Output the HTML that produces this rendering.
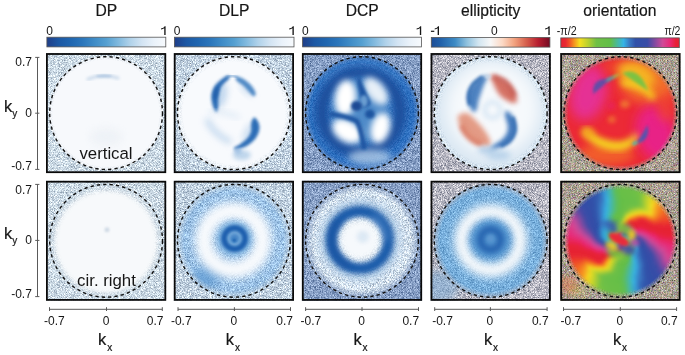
<!DOCTYPE html><html><head><meta charset="utf-8"><style>html,body{margin:0;padding:0;background:#fff;width:685px;height:355px;overflow:hidden}svg{display:block;will-change:transform}text{font-family:"Liberation Sans", sans-serif;fill:#161616}.w{stroke:#161616;stroke-width:0.2px}</style></head><body><svg width="685" height="355" viewBox="0 0 685 355"><defs><linearGradient id="gB" x1="0" x2="1" y1="0" y2="0"><stop offset="0" stop-color="#203e88"/><stop offset="0.1" stop-color="#1c58a4"/><stop offset="0.2" stop-color="#2066b0"/><stop offset="0.3" stop-color="#2b76bb"/><stop offset="0.4" stop-color="#3f8cc7"/><stop offset="0.5" stop-color="#55a0d1"/><stop offset="0.6" stop-color="#80b9de"/><stop offset="0.7" stop-color="#b0d2ea"/><stop offset="0.8" stop-color="#d3e4f3"/><stop offset="0.9" stop-color="#eaf2fa"/><stop offset="1" stop-color="#f7fafd"/></linearGradient><linearGradient id="gE" x1="0" x2="1" y1="0" y2="0"><stop offset="0" stop-color="#1d4d96"/><stop offset="0.08" stop-color="#2262aa"/><stop offset="0.2" stop-color="#3d8bc5"/><stop offset="0.3" stop-color="#8fc1de"/><stop offset="0.4" stop-color="#d3e6f1"/><stop offset="0.5" stop-color="#f7f7f7"/><stop offset="0.6" stop-color="#fcd9c5"/><stop offset="0.7" stop-color="#f2a27f"/><stop offset="0.8" stop-color="#d6604d"/><stop offset="0.9" stop-color="#b81f30"/><stop offset="1" stop-color="#730a22"/></linearGradient><linearGradient id="gO" x1="0" x2="1" y1="0" y2="0"><stop offset="0" stop-color="#e52033"/><stop offset="0.04" stop-color="#e82a30"/><stop offset="0.07" stop-color="#f04c28"/><stop offset="0.11" stop-color="#f59020"/><stop offset="0.16" stop-color="#f5e020"/><stop offset="0.23" stop-color="#b8d030"/><stop offset="0.3" stop-color="#70c045"/><stop offset="0.42" stop-color="#62be48"/><stop offset="0.48" stop-color="#48b8a0"/><stop offset="0.53" stop-color="#35b4e6"/><stop offset="0.58" stop-color="#3a78c2"/><stop offset="0.63" stop-color="#3050a8"/><stop offset="0.73" stop-color="#3a4ca6"/><stop offset="0.8" stop-color="#8a4aa0"/><stop offset="0.86" stop-color="#d04a98"/><stop offset="0.92" stop-color="#e82a78"/><stop offset="0.97" stop-color="#e82038"/><stop offset="1" stop-color="#e52033"/></linearGradient><clipPath id="circ"><circle cx="60.10" cy="60.00" r="57.00"/></clipPath><clipPath id="pan"><rect x="0" y="0" width="120.20" height="120.00"/></clipPath></defs><text transform="translate(106.30 15.5) scale(0.98 1.08)" font-size="16" text-anchor="middle" class="w">DP</text><text transform="translate(234.20 15.5) scale(0.98 1.08)" font-size="16" text-anchor="middle" class="w">DLP</text><text transform="translate(362.20 15.5) scale(0.98 1.08)" font-size="16" text-anchor="middle" class="w">DCP</text><text transform="translate(490.70 15.5) scale(0.98 1.08)" font-size="16" text-anchor="middle" class="w">ellipticity</text><text transform="translate(619.90 15.5) scale(0.98 1.08)" font-size="16" text-anchor="middle" class="w">orientation</text><rect x="46.90" y="37.20" width="118.90" height="9.7" fill="url(#gB)" stroke="#555" stroke-width="0.8"/><rect x="174.40" y="37.20" width="119.60" height="9.7" fill="url(#gB)" stroke="#555" stroke-width="0.8"/><rect x="302.60" y="37.20" width="118.80" height="9.7" fill="url(#gB)" stroke="#555" stroke-width="0.8"/><rect x="431.30" y="37.40" width="118.60" height="9.7" fill="url(#gE)" stroke="#555" stroke-width="0.8"/><rect x="560.80" y="37.90" width="118.50" height="9.7" fill="url(#gO)" stroke="#555" stroke-width="0.8"/><text x="46.30" y="34.9" font-size="12">0</text><path d="M164.25,34.90 L165.60,34.90 L165.60,26.30 L164.70,26.30 Q163.90,28.00 161.00,28.50 L161.00,29.50 Q163.00,29.40 164.25,28.30 Z" fill="#161616"/><text x="173.80" y="34.9" font-size="12">0</text><path d="M292.45,34.90 L293.80,34.90 L293.80,26.30 L292.90,26.30 Q292.10,28.00 289.20,28.50 L289.20,29.50 Q291.20,29.40 292.45,28.30 Z" fill="#161616"/><text x="302.00" y="34.9" font-size="12">0</text><path d="M419.85,34.90 L421.20,34.90 L421.20,26.30 L420.30,26.30 Q419.50,28.00 416.60,28.50 L416.60,29.50 Q418.60,29.40 419.85,28.30 Z" fill="#161616"/><rect x="430.9" y="30.7" width="3.4" height="1.2" fill="#161616"/><path d="M437.65,34.90 L439.00,34.90 L439.00,26.30 L438.10,26.30 Q437.30,28.00 434.70,28.50 L434.70,29.50 Q436.40,29.40 437.65,28.30 Z" fill="#161616"/><path d="M548.35,34.90 L549.70,34.90 L549.70,26.30 L548.80,26.30 Q548.00,28.00 545.10,28.50 L545.10,29.50 Q547.10,29.40 548.35,28.30 Z" fill="#161616"/><text x="556.8" y="34.9" font-size="12" textLength="19.8" lengthAdjust="spacingAndGlyphs">-π/2</text><text x="664.4" y="34.9" font-size="12" textLength="16" lengthAdjust="spacingAndGlyphs">π/2</text><text x="494.4" y="34.9" font-size="12" text-anchor="middle">0</text><g transform="translate(46.00 53.10)"><g clip-path="url(#pan)"><rect x="0" y="0" width="120.20" height="120.00" filter="url(#nz0)" opacity="1"/><g clip-path="url(#circ)"><circle cx="60.1" cy="60" r="57.4" fill="#f7f9fc" opacity="1"/><path d="M42,26 Q57,20 72,25" fill="none" stroke="#8aaed2" stroke-width="3" stroke-linecap="round" opacity="0.4" filter="url(#b1_5)"/><ellipse cx="58" cy="23" rx="8" ry="1.5" fill="#6f9ccc" opacity="0.35" filter="url(#b1)"/><ellipse cx="60" cy="84" rx="16" ry="9" fill="#dfe6ee" opacity="0.35" filter="url(#b4)"/><rect x="0" y="0" width="120.20" height="120.00" filter="url(#nz1)" mask="url(#mk0)" opacity="0.7"/></g></g><circle cx="60.10" cy="60.00" r="56.40" fill="none" stroke="#111" stroke-width="1.4" stroke-dasharray="3.3 3.1"/><rect x="0.9" y="0.9" width="118.40" height="118.20" fill="none" stroke="#0a0a0a" stroke-width="1.8"/></g><g transform="translate(46.00 180.80)"><g clip-path="url(#pan)"><rect x="0" y="0" width="120.20" height="120.00" filter="url(#nz0)" opacity="1"/><g clip-path="url(#circ)"><circle cx="60.1" cy="61" r="52" fill="#f7f9fb" filter="url(#b2_5)"/><rect x="0" y="0" width="120.20" height="120.00" filter="url(#nz2)" mask="url(#mk1)" opacity="0.6"/><ellipse cx="61" cy="49" rx="2.5" ry="2.5" fill="#b8c8d8" opacity="0.6" filter="url(#b1)"/></g></g><circle cx="60.10" cy="60.00" r="56.40" fill="none" stroke="#111" stroke-width="1.4" stroke-dasharray="3.3 3.1"/><rect x="0.9" y="0.9" width="118.40" height="118.20" fill="none" stroke="#0a0a0a" stroke-width="1.8"/></g><g transform="translate(173.80 53.10)"><g clip-path="url(#pan)"><rect x="0" y="0" width="120.20" height="120.00" filter="url(#nz3)" opacity="1"/><g clip-path="url(#circ)"><circle cx="60.1" cy="60" r="57.4" fill="#f8fafd" opacity="1"/><ellipse cx="47" cy="42" rx="6" ry="13" fill="#9cc0e4" opacity="0.6" transform="rotate(12 47 42)" filter="url(#b3)"/><ellipse cx="73" cy="36" rx="4" ry="9" fill="#a8c8e8" opacity="0.5" transform="rotate(-45 73 36)" filter="url(#b3)"/><ellipse cx="75" cy="80" rx="5" ry="11" fill="#a8c8e8" opacity="0.5" transform="rotate(25 75 80)" filter="url(#b3)"/><path d="M54.4,22.5 C55.7,22.4 56.4,23.9 55.5,25.4 C54.6,26.9 50.7,29.5 49.0,31.6 C47.3,33.7 46.2,35.6 45.5,37.9 C44.8,40.2 44.7,43.0 44.5,45.5 C44.3,48.0 44.8,50.9 44.5,53.1 C44.2,55.4 43.8,58.6 43.0,59.0 C42.2,59.4 40.8,57.2 40.0,55.4 C39.2,53.6 38.3,50.5 38.0,48.0 C37.7,45.5 37.5,43.0 38.0,40.5 C38.5,38.0 39.4,35.3 41.0,32.9 C42.6,30.5 45.3,28.0 47.5,26.3 C49.7,24.6 53.1,22.6 54.4,22.5 Z" fill="#2266b2" opacity="0.95" filter="url(#b1_5)"/><ellipse cx="42.5" cy="40" rx="2.5" ry="7" fill="#1a58a5" opacity="0.6" transform="rotate(15 42.5 40)" filter="url(#b1_5)"/><path d="M53,24 Q58,21.5 63,24" fill="none" stroke="#5a90c8" stroke-width="2" stroke-linecap="round" opacity="0.7" filter="url(#b1)"/><path d="M62.8,23.3 C64.0,23.1 67.4,24.5 69.6,25.8 C71.8,27.1 74.2,29.2 76.0,31.0 C77.8,32.8 79.3,35.0 80.3,36.7 C81.3,38.5 81.9,40.5 81.8,41.5 C81.7,42.5 80.6,43.5 79.5,43.0 C78.4,42.5 76.9,40.4 75.2,38.6 C73.5,36.9 71.4,34.4 69.3,32.5 C67.2,30.6 63.7,28.8 62.6,27.3 C61.5,25.8 61.6,23.6 62.8,23.3 Z" fill="#3f7fc0" opacity="0.9" filter="url(#b1_4)"/><path d="M80.5,64.5 C81.8,64.5 84.2,68.0 85.0,70.3 C85.8,72.5 85.8,75.4 85.2,78.0 C84.6,80.6 83.2,83.6 81.2,86.0 C79.2,88.4 76.3,90.8 73.2,92.6 C70.1,94.3 64.6,96.2 62.5,96.5 C60.4,96.8 59.9,95.4 60.5,94.5 C61.1,93.6 64.1,92.8 66.3,91.2 C68.5,89.6 71.8,87.2 73.6,85.0 C75.4,82.8 76.7,80.4 77.3,77.9 C77.9,75.5 76.9,72.5 77.4,70.3 C77.9,68.1 79.2,64.5 80.5,64.5 Z" fill="#2266b2" opacity="0.95" filter="url(#b1_4)"/><path d="M34,68 Q40,81 55,88" fill="none" stroke="#a9c8e7" stroke-width="6" stroke-linecap="round" opacity="0.6" filter="url(#b3)"/><path d="M37,58 Q52,59 64,64" fill="none" stroke="#c0d7ed" stroke-width="4" stroke-linecap="round" opacity="0.45" filter="url(#b3)"/><ellipse cx="68" cy="102" rx="9" ry="5" fill="#a6c6e4" opacity="0.7" filter="url(#b2)"/><ellipse cx="64" cy="98" rx="4" ry="3" fill="#8fb6df" opacity="0.6" filter="url(#b1_5)"/><rect x="0" y="0" width="120.20" height="120.00" filter="url(#nz4)" mask="url(#mk2)" opacity="0.7"/></g></g><circle cx="60.10" cy="60.00" r="56.40" fill="none" stroke="#111" stroke-width="1.4" stroke-dasharray="3.3 3.1"/><rect x="0.9" y="0.9" width="118.40" height="118.20" fill="none" stroke="#0a0a0a" stroke-width="1.8"/></g><g transform="translate(173.80 180.80)"><g clip-path="url(#pan)"><rect x="0" y="0" width="120.20" height="120.00" filter="url(#nz3)" opacity="1"/><g clip-path="url(#circ)"><circle cx="60.1" cy="60" r="57.4" fill="#9cc2e6" opacity="1"/><rect x="0" y="0" width="120.20" height="120.00" filter="url(#nz5)" mask="url(#mk3)" opacity="0.9"/><ellipse cx="33" cy="96" rx="24" ry="11" fill="#5e9ad2" opacity="0.75" transform="rotate(-30 33 96)" filter="url(#b5)"/><circle cx="59.5" cy="59.5" r="29.5" fill="none" stroke="#f8fafd" stroke-width="18" opacity="1" filter="url(#b4)"/><ellipse cx="60.8" cy="57.7" rx="17.5" ry="17" fill="#80b2df" opacity="1" filter="url(#b2_5)"/><circle cx="60.8" cy="57.7" r="10.5" fill="none" stroke="#1b5eae" stroke-width="6" opacity="1" filter="url(#b1_6)"/><ellipse cx="60.8" cy="57.7" rx="5" ry="5" fill="#4a88c8" opacity="1" filter="url(#b1_5)"/><ellipse cx="60.5" cy="59.5" rx="1.8" ry="1.8" fill="#1b5eae" opacity="1" filter="url(#b0_8)"/><rect x="0" y="0" width="120.20" height="120.00" filter="url(#nz6)" mask="url(#mk1)" opacity="1"/></g></g><circle cx="60.10" cy="60.00" r="56.40" fill="none" stroke="#111" stroke-width="1.4" stroke-dasharray="3.3 3.1"/><rect x="0.9" y="0.9" width="118.40" height="118.20" fill="none" stroke="#0a0a0a" stroke-width="1.8"/></g><g transform="translate(301.90 53.10)"><g clip-path="url(#pan)"><rect x="0" y="0" width="120.20" height="120.00" filter="url(#nz7)" opacity="1"/><g clip-path="url(#circ)"><circle cx="60.1" cy="60" r="57.4" fill="#2d6fc0" opacity="1"/><rect x="0" y="0" width="120.20" height="120.00" filter="url(#nz8)" mask="url(#mk3)" opacity="0.6"/><path d="M22,30 A48,48 0 0 1 98,30" fill="none" stroke="#5a92d0" stroke-width="6" opacity="0.45" filter="url(#b3)"/><circle cx="59" cy="59" r="39" fill="none" stroke="#1a4f9d" stroke-width="13" opacity="1" filter="url(#b3_5)"/><ellipse cx="68" cy="104" rx="22" ry="8" fill="#b3cde8" opacity="0.8" filter="url(#b3_5)"/><ellipse cx="59" cy="58" rx="28" ry="32" fill="#4f8bc9" opacity="1" filter="url(#b4)"/><ellipse cx="43.5" cy="45" rx="10.5" ry="18" fill="#ffffff" opacity="1" transform="rotate(6 43.5 45)" filter="url(#b3_2)"/><ellipse cx="74" cy="38" rx="9" ry="16" fill="#e8f0f8" opacity="1" transform="rotate(-38 74 38)" filter="url(#b3_2)"/><ellipse cx="45" cy="78" rx="16" ry="10.5" fill="#ffffff" opacity="1" transform="rotate(32 45 78)" filter="url(#b3_2)"/><ellipse cx="78.5" cy="75" rx="9.5" ry="15.5" fill="#ffffff" opacity="1" transform="rotate(15 78.5 75)" filter="url(#b3_2)"/><path d="M57.0,23.0 C57.8,23.0 58.8,27.2 60.0,30.0 C61.2,32.8 63.1,36.5 64.5,40.0 C65.9,43.5 69.2,48.7 68.5,51.0 C67.8,53.3 62.3,55.8 60.5,54.0 C58.7,52.2 58.3,44.0 57.5,40.0 C56.7,36.0 55.6,32.8 55.5,30.0 C55.4,27.2 56.2,23.0 57.0,23.0 Z" fill="#1c55a2" opacity="1" filter="url(#b1_6)"/><path d="M30,61 C40,63 48,64 55,68 C59,74 60,82 62,94" fill="none" stroke="#1c55a2" stroke-width="5" stroke-linecap="round" opacity="1" filter="url(#b1_8)"/><ellipse cx="62" cy="48" rx="4" ry="6" fill="#7fb0dd" opacity="0.8" filter="url(#b1_8)"/><ellipse cx="54.5" cy="53" rx="5.5" ry="5" fill="#1a4a94" opacity="1" filter="url(#b1_6)"/><ellipse cx="68" cy="61" rx="5" ry="4.5" fill="#1e55a0" opacity="1" filter="url(#b1_6)"/><rect x="0" y="0" width="120.20" height="120.00" filter="url(#nz9)" mask="url(#mk4)" opacity="0.7"/></g></g><circle cx="60.10" cy="60.00" r="56.40" fill="none" stroke="#111" stroke-width="1.4" stroke-dasharray="3.3 3.1"/><rect x="0.9" y="0.9" width="118.40" height="118.20" fill="none" stroke="#0a0a0a" stroke-width="1.8"/></g><g transform="translate(301.90 180.80)"><g clip-path="url(#pan)"><rect x="0" y="0" width="120.20" height="120.00" filter="url(#nz7)" opacity="1"/><g clip-path="url(#circ)"><circle cx="60.1" cy="60" r="57.4" fill="#d3e1ee" opacity="1"/><rect x="0" y="0" width="120.20" height="120.00" filter="url(#nz10)" mask="url(#mk3)" opacity="1"/><circle cx="58" cy="59" r="38" fill="none" stroke="#b0cce8" stroke-width="8" opacity="0.7" filter="url(#b3)"/><circle cx="58" cy="59" r="28.5" fill="none" stroke="#1f5dab" stroke-width="12" opacity="1" filter="url(#b2_5)"/><path d="M38,40 A28,28 0 0 0 48,85" fill="none" stroke="#1a52a0" stroke-width="8" opacity="0.7" filter="url(#b3)"/><path d="M70,36 A28,28 0 0 1 84,60" fill="none" stroke="#5a90cc" stroke-width="8" opacity="0.5" filter="url(#b3)"/><ellipse cx="58" cy="59" rx="20" ry="20" fill="#f6f9fc" opacity="1" filter="url(#b3)"/><ellipse cx="61" cy="56" rx="6" ry="6" fill="#d5e4f2" opacity="0.8" filter="url(#b2)"/><rect x="0" y="0" width="120.20" height="120.00" filter="url(#nz9)" mask="url(#mk5)" opacity="1"/></g></g><circle cx="60.10" cy="60.00" r="56.40" fill="none" stroke="#111" stroke-width="1.4" stroke-dasharray="3.3 3.1"/><rect x="0.9" y="0.9" width="118.40" height="118.20" fill="none" stroke="#0a0a0a" stroke-width="1.8"/></g><g transform="translate(430.60 53.10)"><g clip-path="url(#pan)"><rect x="0" y="0" width="120.20" height="120.00" filter="url(#nz11)" opacity="1"/><g clip-path="url(#circ)"><circle cx="60.1" cy="60" r="57.4" fill="#dbe8f3" opacity="1"/><ellipse cx="62" cy="56" rx="46" ry="46" fill="#f6f9fc" opacity="1" filter="url(#b7)"/><path d="M55.5,22.5 C56.6,22.5 57.0,23.2 56.5,25.0 C56.0,26.8 53.8,30.4 52.8,33.0 C51.8,35.6 51.0,38.0 50.2,40.5 C49.4,43.0 48.4,45.4 47.8,48.0 C47.1,50.6 47.1,54.2 46.3,56.0 C45.5,57.8 44.3,59.7 43.0,59.0 C41.7,58.3 39.3,54.5 38.3,52.0 C37.3,49.5 36.9,46.8 37.0,44.3 C37.1,41.8 37.9,39.0 39.0,36.7 C40.1,34.4 41.6,32.2 43.4,30.3 C45.2,28.4 47.8,26.5 49.8,25.2 C51.8,23.9 54.4,22.5 55.5,22.5 Z" fill="#3a74ba" opacity="0.9" filter="url(#b2_2)"/><path d="M59.5,22.5 C60.3,22.1 63.6,22.9 66.2,24.0 C68.8,25.1 72.5,27.1 75.1,29.0 C77.6,30.9 79.8,33.1 81.5,35.4 C83.2,37.7 84.5,40.9 85.3,43.0 C86.1,45.1 86.7,46.8 86.5,48.0 C86.3,49.2 85.5,50.0 84.0,50.0 C82.5,50.0 80.0,49.3 77.7,48.1 C75.4,46.9 72.1,45.1 70.0,43.0 C67.9,40.9 66.5,38.1 65.0,35.4 C63.5,32.6 62.1,28.6 61.2,26.5 C60.3,24.4 58.7,22.9 59.5,22.5 Z" fill="#cf5a48" opacity="0.85" filter="url(#b2_4)"/><path d="M27.7,62.7 C29.0,60.8 33.4,59.2 36.6,60.2 C39.8,61.2 43.8,66.0 46.8,69.0 C49.8,72.0 52.3,74.9 54.4,77.9 C56.5,80.9 58.6,84.5 59.4,86.8 C60.2,89.1 59.6,91.0 59.4,92.0 C59.2,93.0 59.7,93.0 58.2,93.1 C56.7,93.2 53.4,93.3 50.6,92.5 C47.9,91.7 44.5,90.0 41.7,88.0 C38.9,86.0 36.1,83.2 34.0,80.5 C31.9,77.8 30.1,74.6 29.0,71.6 C27.9,68.6 26.4,64.6 27.7,62.7 Z" fill="#e08a70" opacity="0.85" filter="url(#b2_6)"/><path d="M75.0,58.0 C76.0,57.6 79.4,59.4 81.0,61.4 C82.6,63.4 84.2,67.3 84.8,70.3 C85.4,73.3 85.6,76.2 84.8,79.2 C84.0,82.2 82.2,85.6 79.7,88.1 C77.2,90.6 73.0,92.9 69.6,94.4 C66.2,95.9 60.5,97.4 59.4,97.0 C58.3,96.6 61.3,93.6 63.2,91.9 C65.1,90.2 68.8,88.7 70.9,86.8 C73.0,84.9 74.9,82.8 75.9,80.5 C77.0,78.2 77.4,75.7 77.2,72.9 C77.0,70.2 75.1,66.5 74.7,64.0 C74.3,61.5 74.0,58.4 75.0,58.0 Z" fill="#3570b8" opacity="0.9" filter="url(#b2_2)"/><path d="M52.0,23.5 C50.6,24.6 45.5,28.1 43.4,30.3 C41.3,32.5 40.4,34.4 39.5,36.7 C38.6,39.0 38.0,41.8 38.0,44.3 C38.0,46.8 39.1,50.7 39.3,52.0" fill="none" stroke="#2360aa" stroke-width="4" opacity="0.75" filter="url(#b1_8)"/><path d="M62.0,23.0 C64.0,23.8 70.9,25.9 74.0,28.0 C77.1,30.1 78.8,32.9 80.5,35.4 C82.2,37.9 83.7,41.7 84.3,43.0" fill="none" stroke="#b93a33" stroke-width="4.5" opacity="0.7" filter="url(#b2)"/><path d="M30.5,72.0 C31.2,73.4 33.0,78.0 35.0,80.5 C37.0,83.0 39.5,85.5 42.2,87.3 C44.9,89.1 49.5,90.8 51.0,91.5" fill="none" stroke="#d05a40" stroke-width="4.5" opacity="0.65" filter="url(#b2)"/><path d="M82.0,64.0 C82.3,65.2 83.5,68.5 83.8,71.0 C84.1,73.5 84.6,76.5 83.8,79.2 C83.0,82.0 81.3,85.1 79.0,87.5 C76.7,89.9 71.5,92.4 70.0,93.4" fill="none" stroke="#2360aa" stroke-width="4" opacity="0.75" filter="url(#b1_8)"/><ellipse cx="57.5" cy="23.5" rx="3" ry="2" fill="#c8d8ea" opacity="0.8" filter="url(#b1)"/><ellipse cx="56" cy="97" rx="9" ry="4" fill="#a6c6e4" opacity="0.7" filter="url(#b2_5)"/><ellipse cx="68" cy="102" rx="12" ry="5" fill="#a9c9e6" opacity="0.75" filter="url(#b3)"/><circle cx="62" cy="57" r="8" fill="none" stroke="#c4dbef" stroke-width="4" opacity="0.6" filter="url(#b2_5)"/><rect x="0" y="0" width="120.20" height="120.00" filter="url(#nz12)" mask="url(#mk1)" opacity="0.8"/></g></g><circle cx="60.10" cy="60.00" r="56.40" fill="none" stroke="#111" stroke-width="1.4" stroke-dasharray="3.3 3.1"/><rect x="0.9" y="0.9" width="118.40" height="118.20" fill="none" stroke="#0a0a0a" stroke-width="1.8"/></g><g transform="translate(430.60 180.80)"><g clip-path="url(#pan)"><rect x="0" y="0" width="120.20" height="120.00" filter="url(#nz11)" opacity="1"/><ellipse cx="8" cy="106" rx="20" ry="16" fill="#7fb0dc" opacity="0.55" filter="url(#b4)"/><g clip-path="url(#circ)"><circle cx="60.1" cy="60" r="57.4" fill="#78afdc" opacity="1"/><rect x="0" y="0" width="120.20" height="120.00" filter="url(#nz13)" mask="url(#mk3)" opacity="0.8"/><circle cx="60.1" cy="60" r="29.5" fill="none" stroke="#f8fafc" stroke-width="14" opacity="1" filter="url(#b4)"/><ellipse cx="60" cy="58.8" rx="20" ry="19" fill="#4e8fcc" opacity="1" filter="url(#b3)"/><circle cx="60" cy="58.8" r="10" fill="none" stroke="#2a68b2" stroke-width="7" opacity="1" filter="url(#b2)"/><ellipse cx="60" cy="58" rx="3.5" ry="3.5" fill="#5a95d0" opacity="1" filter="url(#b1_5)"/><rect x="0" y="0" width="120.20" height="120.00" filter="url(#nz14)" mask="url(#mk2)" opacity="0.8"/></g></g><circle cx="60.10" cy="60.00" r="56.40" fill="none" stroke="#111" stroke-width="1.4" stroke-dasharray="3.3 3.1"/><rect x="0.9" y="0.9" width="118.40" height="118.20" fill="none" stroke="#0a0a0a" stroke-width="1.8"/></g><g transform="translate(560.30 53.10)"><g clip-path="url(#pan)"><rect x="0" y="0" width="120.20" height="120.00" filter="url(#nz15)" opacity="1"/><g clip-path="url(#circ)"><circle cx="60.1" cy="60" r="57.4" fill="#ec2a36" opacity="1"/><ellipse cx="28" cy="40" rx="18" ry="28" fill="#e5309a" opacity="0.95" transform="rotate(15 28 40)" filter="url(#b6)"/><ellipse cx="54" cy="14" rx="10" ry="7" fill="#ef4a2e" opacity="0.8" filter="url(#b4)"/><ellipse cx="88" cy="28" rx="28" ry="22" fill="#f3722c" opacity="0.95" filter="url(#b6)"/><ellipse cx="76" cy="22" rx="20" ry="12" fill="#f5b822" opacity="0.95" transform="rotate(25 76 22)" filter="url(#b4)"/><path d="M64,30 Q82,30 92,44" fill="none" stroke="#f5d020" stroke-width="7" stroke-linecap="round" opacity="0.9" filter="url(#b3)"/><path d="M62,20 Q79,13 88,38 Q73,28 62,20 Z" fill="#7cc242" opacity="1" filter="url(#b1_8)"/><path d="M33,41 Q31,24 50,26 Q42,34 33,41 Z" fill="#5a50a8" opacity="0.95" filter="url(#b1_6)"/><path d="M45,29 Q47,22 56,23 Q52,28 45,29 Z" fill="#40b4b8" opacity="0.85" filter="url(#b1_6)"/><path d="M52,25 Q54,20 60,21 Q58,24 52,25 Z" fill="#a8d040" opacity="0.8" filter="url(#b1_5)"/><ellipse cx="46" cy="101" rx="28" ry="11" fill="#f2642c" opacity="0.9" filter="url(#b5)"/><path d="M26,79 Q40,94 60,93 Q70,91 77,84" fill="none" stroke="#f5dc20" stroke-width="9" stroke-linecap="round" opacity="0.95" filter="url(#b3)"/><ellipse cx="28" cy="80" rx="6" ry="5" fill="#f39a24" opacity="0.7" filter="url(#b3)"/><ellipse cx="95" cy="80" rx="19" ry="28" fill="#e8248c" opacity="0.95" transform="rotate(-15 95 80)" filter="url(#b6)"/><path d="M75,91 Q91,88 87,72 Q81,84 75,91 Z" fill="#4a58b0" opacity="0.95" filter="url(#b1_6)"/><ellipse cx="74.5" cy="90" rx="3" ry="2" fill="#5ab8a0" opacity="0.8" transform="rotate(-30 74.5 90)" filter="url(#b1_2)"/><ellipse cx="64.5" cy="51" rx="5" ry="4" fill="#f07a30" opacity="0.85" filter="url(#b2)"/><ellipse cx="51.5" cy="66.5" rx="4" ry="3.5" fill="#f07a30" opacity="0.75" filter="url(#b2)"/><ellipse cx="51" cy="53" rx="4" ry="4" fill="#e82068" opacity="0.6" filter="url(#b2)"/><ellipse cx="105" cy="55" rx="8" ry="14" fill="#f04a30" opacity="0.6" filter="url(#b4)"/><rect x="0" y="0" width="120.20" height="120.00" filter="url(#nz15)" mask="url(#mk4)" opacity="0.8"/></g></g><circle cx="60.10" cy="60.00" r="56.40" fill="none" stroke="#111" stroke-width="1.4" stroke-dasharray="3.3 3.1"/><rect x="0.9" y="0.9" width="118.40" height="118.20" fill="none" stroke="#0a0a0a" stroke-width="1.8"/></g><g transform="translate(560.30 180.80)"><g clip-path="url(#pan)"><rect x="0" y="0" width="120.20" height="120.00" filter="url(#nz15)" opacity="1"/><ellipse cx="8" cy="104" rx="10" ry="9" fill="#e8703c" opacity="0.45" filter="url(#b3)"/><ellipse cx="18" cy="110" rx="8" ry="6" fill="#d0c040" opacity="0.3" filter="url(#b3)"/><g clip-path="url(#circ)"><foreignObject x="0" y="0" width="120.2" height="120" filter="url(#b1_5)"><div style="position:relative;width:120.2px;height:120px"><div style="position:absolute;left:2.70px;top:2.60px;width:114.80px;height:114.80px;border-radius:50%;background:conic-gradient(#68bf47 0deg,#6abf46 6deg,#6cbf46 12deg,#6ec045 18deg,#7cc341 24deg,#aece33 30deg,#d9d927 36deg,#f5c620 42deg,#f59320 48deg,#f37823 54deg,#f15d26 60deg,#ee452a 66deg,#e82930 72deg,#e52233 78deg,#e72037 84deg,#e82558 90deg,#e82a75 96deg,#e03583 102deg,#d7418f 108deg,#c24a9a 114deg,#8a4aa0 120deg,#534ba4 126deg,#374da7 132deg,#344ea7 138deg,#324fa8 144deg,#3153aa 150deg,#3564b5 156deg,#3797d5 162deg,#43b7b2 168deg,#5dbd59 174deg,#68bf47 180deg,#6abf46 186deg,#6cbf46 192deg,#6ec045 198deg,#7cc341 204deg,#aece33 210deg,#d9d927 216deg,#f5c620 222deg,#f59320 228deg,#f37823 234deg,#f15d26 240deg,#ee452a 246deg,#e82930 252deg,#e52233 258deg,#e72037 264deg,#e82558 270deg,#e82a75 276deg,#e03583 282deg,#d7418f 288deg,#c24a9a 294deg,#8a4aa0 300deg,#534ba4 306deg,#374da7 312deg,#344ea7 318deg,#324fa8 324deg,#3153aa 330deg,#3564b5 336deg,#3797d5 342deg,#43b7b2 348deg,#5dbd59 354deg,#68bf47 360deg)"></div><div style="position:absolute;left:4.14px;top:4.04px;width:111.93px;height:111.93px;border-radius:50%;background:conic-gradient(#68bf47 0deg,#6abf46 6deg,#6cbf46 12deg,#6ec045 18deg,#7cc341 24deg,#aece33 30deg,#d9d927 36deg,#f5c620 42deg,#f59320 48deg,#f37823 54deg,#f15d26 60deg,#ee452a 66deg,#e82930 72deg,#e52233 78deg,#e72037 84deg,#e82558 90deg,#e82a75 96deg,#e03583 102deg,#d7418f 108deg,#c24a9a 114deg,#8a4aa0 120deg,#534ba4 126deg,#374da7 132deg,#344ea7 138deg,#324fa8 144deg,#3153aa 150deg,#3564b5 156deg,#3797d5 162deg,#43b7b2 168deg,#5dbd59 174deg,#68bf47 180deg,#6abf46 186deg,#6cbf46 192deg,#6ec045 198deg,#7cc341 204deg,#aece33 210deg,#d9d927 216deg,#f5c620 222deg,#f59320 228deg,#f37823 234deg,#f15d26 240deg,#ee452a 246deg,#e82930 252deg,#e52233 258deg,#e72037 264deg,#e82558 270deg,#e82a75 276deg,#e03583 282deg,#d7418f 288deg,#c24a9a 294deg,#8a4aa0 300deg,#534ba4 306deg,#374da7 312deg,#344ea7 318deg,#324fa8 324deg,#3153aa 330deg,#3564b5 336deg,#3797d5 342deg,#43b7b2 348deg,#5dbd59 354deg,#68bf47 360deg)"></div><div style="position:absolute;left:5.57px;top:5.47px;width:109.06px;height:109.06px;border-radius:50%;background:conic-gradient(#68bf47 0deg,#6abf46 6deg,#6cbf46 12deg,#6ec045 18deg,#7cc341 24deg,#aece33 30deg,#d9d927 36deg,#f5c620 42deg,#f59320 48deg,#f37823 54deg,#f15d26 60deg,#ee452a 66deg,#e82930 72deg,#e52233 78deg,#e72037 84deg,#e82558 90deg,#e82a75 96deg,#e03583 102deg,#d7418f 108deg,#c24a9a 114deg,#8a4aa0 120deg,#534ba4 126deg,#374da7 132deg,#344ea7 138deg,#324fa8 144deg,#3153aa 150deg,#3564b5 156deg,#3797d5 162deg,#43b7b2 168deg,#5dbd59 174deg,#68bf47 180deg,#6abf46 186deg,#6cbf46 192deg,#6ec045 198deg,#7cc341 204deg,#aece33 210deg,#d9d927 216deg,#f5c620 222deg,#f59320 228deg,#f37823 234deg,#f15d26 240deg,#ee452a 246deg,#e82930 252deg,#e52233 258deg,#e72037 264deg,#e82558 270deg,#e82a75 276deg,#e03583 282deg,#d7418f 288deg,#c24a9a 294deg,#8a4aa0 300deg,#534ba4 306deg,#374da7 312deg,#344ea7 318deg,#324fa8 324deg,#3153aa 330deg,#3564b5 336deg,#3797d5 342deg,#43b7b2 348deg,#5dbd59 354deg,#68bf47 360deg)"></div><div style="position:absolute;left:7.01px;top:6.91px;width:106.19px;height:106.19px;border-radius:50%;background:conic-gradient(#68bf47 0deg,#6abf46 6deg,#6cbf46 12deg,#6ec045 18deg,#7cc341 24deg,#aece33 30deg,#d9d927 36deg,#f5c620 42deg,#f59320 48deg,#f37823 54deg,#f15d26 60deg,#ee452a 66deg,#e82930 72deg,#e52233 78deg,#e72037 84deg,#e82558 90deg,#e82a75 96deg,#e03583 102deg,#d7418f 108deg,#c24a9a 114deg,#8a4aa0 120deg,#534ba4 126deg,#374da7 132deg,#344ea7 138deg,#324fa8 144deg,#3153aa 150deg,#3564b5 156deg,#3797d5 162deg,#43b7b2 168deg,#5dbd59 174deg,#68bf47 180deg,#6abf46 186deg,#6cbf46 192deg,#6ec045 198deg,#7cc341 204deg,#aece33 210deg,#d9d927 216deg,#f5c620 222deg,#f59320 228deg,#f37823 234deg,#f15d26 240deg,#ee452a 246deg,#e82930 252deg,#e52233 258deg,#e72037 264deg,#e82558 270deg,#e82a75 276deg,#e03583 282deg,#d7418f 288deg,#c24a9a 294deg,#8a4aa0 300deg,#534ba4 306deg,#374da7 312deg,#344ea7 318deg,#324fa8 324deg,#3153aa 330deg,#3564b5 336deg,#3797d5 342deg,#43b7b2 348deg,#5dbd59 354deg,#68bf47 360deg)"></div><div style="position:absolute;left:8.44px;top:8.34px;width:103.32px;height:103.32px;border-radius:50%;background:conic-gradient(#68bf47 0deg,#6abf46 6deg,#6cbf46 12deg,#6ec045 18deg,#7cc341 24deg,#aece33 30deg,#d9d927 36deg,#f5c620 42deg,#f59320 48deg,#f37823 54deg,#f15d26 60deg,#ee452a 66deg,#e82930 72deg,#e52233 78deg,#e72037 84deg,#e82558 90deg,#e82a75 96deg,#e03583 102deg,#d7418f 108deg,#c24a9a 114deg,#8a4aa0 120deg,#534ba4 126deg,#374da7 132deg,#344ea7 138deg,#324fa8 144deg,#3153aa 150deg,#3564b5 156deg,#3797d5 162deg,#43b7b2 168deg,#5dbd59 174deg,#68bf47 180deg,#6abf46 186deg,#6cbf46 192deg,#6ec045 198deg,#7cc341 204deg,#aece33 210deg,#d9d927 216deg,#f5c620 222deg,#f59320 228deg,#f37823 234deg,#f15d26 240deg,#ee452a 246deg,#e82930 252deg,#e52233 258deg,#e72037 264deg,#e82558 270deg,#e82a75 276deg,#e03583 282deg,#d7418f 288deg,#c24a9a 294deg,#8a4aa0 300deg,#534ba4 306deg,#374da7 312deg,#344ea7 318deg,#324fa8 324deg,#3153aa 330deg,#3564b5 336deg,#3797d5 342deg,#43b7b2 348deg,#5dbd59 354deg,#68bf47 360deg)"></div><div style="position:absolute;left:9.88px;top:9.77px;width:100.45px;height:100.45px;border-radius:50%;background:conic-gradient(#68bf47 0deg,#6abf46 6deg,#6cbf46 12deg,#6ec045 18deg,#7ac242 24deg,#abcd34 30deg,#d7d828 36deg,#f5cb20 42deg,#f59720 48deg,#f37a23 54deg,#f15d26 60deg,#ee442a 66deg,#e82930 72deg,#e52133 78deg,#e82037 84deg,#e82559 90deg,#e82a77 96deg,#df3684 102deg,#d54391 108deg,#be4a9a 114deg,#874aa0 120deg,#514ba4 126deg,#374da7 132deg,#344ea7 138deg,#324fa8 144deg,#3154ab 150deg,#3566b6 156deg,#3799d6 162deg,#43b7b1 168deg,#5dbd59 174deg,#68bf47 180deg,#6abf46 186deg,#6cbf46 192deg,#6ec045 198deg,#7ac242 204deg,#abcd34 210deg,#d7d828 216deg,#f5cb20 222deg,#f59720 228deg,#f37a23 234deg,#f15d26 240deg,#ee442a 246deg,#e82930 252deg,#e52133 258deg,#e82037 264deg,#e82559 270deg,#e82a77 276deg,#df3684 282deg,#d54391 288deg,#be4a9a 294deg,#874aa0 300deg,#514ba4 306deg,#374da7 312deg,#344ea7 318deg,#324fa8 324deg,#3154ab 330deg,#3566b6 336deg,#3799d6 342deg,#43b7b1 348deg,#5dbd59 354deg,#68bf47 360deg)"></div><div style="position:absolute;left:11.31px;top:11.21px;width:97.58px;height:97.58px;border-radius:50%;background:conic-gradient(#67bf47 0deg,#69bf46 6deg,#6bbf46 12deg,#6dc046 18deg,#72c144 24deg,#a3cb36 30deg,#d0d62a 36deg,#f5d820 42deg,#f5a220 48deg,#f48022 54deg,#f15d26 60deg,#ed402b 66deg,#e72831 72deg,#e52033 78deg,#e82038 84deg,#e8265c 90deg,#e62c7a 96deg,#dc3a88 102deg,#d24896 108deg,#b14a9c 114deg,#7d4aa1 120deg,#494ca5 126deg,#374da7 132deg,#334fa7 138deg,#3150a8 144deg,#3259ae 150deg,#376bba 156deg,#379fd9 162deg,#44b7ae 168deg,#5cbd5b 174deg,#67bf47 180deg,#69bf46 186deg,#6bbf46 192deg,#6dc046 198deg,#72c144 204deg,#a3cb36 210deg,#d0d62a 216deg,#f5d820 222deg,#f5a220 228deg,#f48022 234deg,#f15d26 240deg,#ed402b 246deg,#e72831 252deg,#e52033 258deg,#e82038 264deg,#e8265c 270deg,#e62c7a 276deg,#dc3a88 282deg,#d24896 288deg,#b14a9c 294deg,#7d4aa1 300deg,#494ca5 306deg,#374da7 312deg,#334fa7 318deg,#3150a8 324deg,#3259ae 330deg,#376bba 336deg,#379fd9 342deg,#44b7ae 348deg,#5cbd5b 354deg,#67bf47 360deg)"></div><div style="position:absolute;left:12.75px;top:12.65px;width:94.71px;height:94.71px;border-radius:50%;background:conic-gradient(#67bf47 0deg,#69bf47 6deg,#6bbf46 12deg,#6dc046 18deg,#6fc045 24deg,#9bca38 30deg,#c9d42c 36deg,#f2df21 42deg,#f5ad20 48deg,#f48621 54deg,#f15d26 60deg,#ec3c2c 66deg,#e72731 72deg,#e52033 78deg,#e82039 84deg,#e8265e 90deg,#e52f7d 96deg,#d93e8c 102deg,#ca4a99 108deg,#a44a9d 114deg,#734ba2 120deg,#424ca5 126deg,#364da7 132deg,#334fa7 138deg,#3150a8 144deg,#335db1 150deg,#3871bd 156deg,#36a5dd 162deg,#45b7ac 168deg,#5cbd5d 174deg,#67bf47 180deg,#69bf47 186deg,#6bbf46 192deg,#6dc046 198deg,#6fc045 204deg,#9bca38 210deg,#c9d42c 216deg,#f2df21 222deg,#f5ad20 228deg,#f48621 234deg,#f15d26 240deg,#ec3c2c 246deg,#e72731 252deg,#e52033 258deg,#e82039 264deg,#e8265e 270deg,#e52f7d 276deg,#d93e8c 282deg,#ca4a99 288deg,#a44a9d 294deg,#734ba2 300deg,#424ca5 306deg,#364da7 312deg,#334fa7 318deg,#3150a8 324deg,#335db1 330deg,#3871bd 336deg,#36a5dd 342deg,#45b7ac 348deg,#5cbd5d 354deg,#67bf47 360deg)"></div><div style="position:absolute;left:14.18px;top:14.08px;width:91.84px;height:91.84px;border-radius:50%;background:conic-gradient(#66bf47 0deg,#68bf47 6deg,#6abf46 12deg,#6cbf46 18deg,#6fc045 24deg,#93c83b 30deg,#c2d32d 36deg,#eadd23 42deg,#f5b820 48deg,#f58c20 54deg,#f15d26 60deg,#eb382d 66deg,#e72631 72deg,#e52034 78deg,#e8213c 84deg,#e82661 90deg,#e3317f 96deg,#d64290 102deg,#be4a9a 108deg,#974a9e 114deg,#694ba2 120deg,#3b4ca6 126deg,#364ea7 132deg,#334fa7 138deg,#3050a8 144deg,#3562b4 150deg,#3a76c1 156deg,#36abe0 162deg,#45b7a9 168deg,#5bbc5f 174deg,#66bf47 180deg,#68bf47 186deg,#6abf46 192deg,#6cbf46 198deg,#6fc045 204deg,#93c83b 210deg,#c2d32d 216deg,#eadd23 222deg,#f5b820 228deg,#f58c20 234deg,#f15d26 240deg,#eb382d 246deg,#e72631 252deg,#e52034 258deg,#e8213c 264deg,#e82661 270deg,#e3317f 276deg,#d64290 282deg,#be4a9a 288deg,#974a9e 294deg,#694ba2 300deg,#3b4ca6 306deg,#364ea7 312deg,#334fa7 318deg,#3050a8 324deg,#3562b4 330deg,#3a76c1 336deg,#36abe0 342deg,#45b7a9 348deg,#5bbc5f 354deg,#66bf47 360deg)"></div><div style="position:absolute;left:15.62px;top:15.52px;width:88.97px;height:88.97px;border-radius:50%;background:conic-gradient(#66bf47 0deg,#67bf47 6deg,#69bf46 12deg,#6bbf46 18deg,#6ec045 24deg,#8cc63d 30deg,#bbd12f 36deg,#e3db25 42deg,#f5c320 48deg,#f59220 54deg,#f15d26 60deg,#ea342e 66deg,#e72531 72deg,#e62034 78deg,#e82140 84deg,#e82764 90deg,#e13482 96deg,#d34593 102deg,#b34a9b 108deg,#8b4aa0 114deg,#5f4ba3 120deg,#394ca6 126deg,#364ea7 132deg,#324fa8 138deg,#3052a9 144deg,#3667b7 150deg,#3a7dc5 156deg,#35b1e4 162deg,#46b8a7 168deg,#5bbc61 174deg,#66bf47 180deg,#67bf47 186deg,#69bf46 192deg,#6bbf46 198deg,#6ec045 204deg,#8cc63d 210deg,#bbd12f 216deg,#e3db25 222deg,#f5c320 228deg,#f59220 234deg,#f15d26 240deg,#ea342e 246deg,#e72531 252deg,#e62034 258deg,#e82140 264deg,#e82764 270deg,#e13482 276deg,#d34593 282deg,#b34a9b 288deg,#8b4aa0 294deg,#5f4ba3 300deg,#394ca6 306deg,#364ea7 312deg,#324fa8 318deg,#3052a9 324deg,#3667b7 330deg,#3a7dc5 336deg,#35b1e4 342deg,#46b8a7 348deg,#5bbc61 354deg,#66bf47 360deg)"></div><div style="position:absolute;left:17.05px;top:16.95px;width:86.10px;height:86.10px;border-radius:50%;background:conic-gradient(#65be47 0deg,#67bf47 6deg,#69bf47 12deg,#6abf46 18deg,#6dc046 24deg,#84c43f 30deg,#b3cf31 36deg,#dcd927 42deg,#f5ce20 48deg,#f59720 54deg,#f15d26 60deg,#e9302f 66deg,#e62432 72deg,#e62035 78deg,#e82243 84deg,#e82767 90deg,#df3684 96deg,#d14997 102deg,#a84a9d 108deg,#7e4aa1 114deg,#554ba4 120deg,#394ca6 126deg,#354ea7 132deg,#324fa8 138deg,#3155ab 144deg,#376bba 150deg,#3986ca 156deg,#36b4e3 162deg,#47b8a4 168deg,#5abc62 174deg,#65be47 180deg,#67bf47 186deg,#69bf47 192deg,#6abf46 198deg,#6dc046 204deg,#84c43f 210deg,#b3cf31 216deg,#dcd927 222deg,#f5ce20 228deg,#f59720 234deg,#f15d26 240deg,#e9302f 246deg,#e62432 252deg,#e62035 258deg,#e82243 264deg,#e82767 270deg,#df3684 276deg,#d14997 282deg,#a84a9d 288deg,#7e4aa1 294deg,#554ba4 300deg,#394ca6 306deg,#354ea7 312deg,#324fa8 318deg,#3155ab 324deg,#376bba 330deg,#3986ca 336deg,#36b4e3 342deg,#47b8a4 348deg,#5abc62 354deg,#65be47 360deg)"></div><div style="position:absolute;left:18.49px;top:18.39px;width:83.23px;height:83.23px;border-radius:50%;background:conic-gradient(#65be47 0deg,#66bf47 6deg,#68bf47 12deg,#69bf46 18deg,#6cbf46 24deg,#7cc342 30deg,#abcd34 36deg,#d4d729 42deg,#f5d920 48deg,#f59d20 54deg,#f15d26 60deg,#e92c2f 66deg,#e62332 72deg,#e62035 78deg,#e82247 84deg,#e82869 90deg,#dd3886 96deg,#ca4a99 102deg,#9d4a9e 108deg,#724ba2 114deg,#4c4ca5 120deg,#384da6 126deg,#354ea7 132deg,#324fa8 138deg,#3259ae 144deg,#3870bd 150deg,#388ecf 156deg,#38b5dc 162deg,#48b8a2 168deg,#5abc64 174deg,#65be47 180deg,#66bf47 186deg,#68bf47 192deg,#69bf46 198deg,#6cbf46 204deg,#7cc342 210deg,#abcd34 216deg,#d4d729 222deg,#f5d920 228deg,#f59d20 234deg,#f15d26 240deg,#e92c2f 246deg,#e62332 252deg,#e62035 258deg,#e82247 264deg,#e82869 270deg,#dd3886 276deg,#ca4a99 282deg,#9d4a9e 288deg,#724ba2 294deg,#4c4ca5 300deg,#384da6 306deg,#354ea7 312deg,#324fa8 318deg,#3259ae 324deg,#3870bd 330deg,#388ecf 336deg,#38b5dc 342deg,#48b8a2 348deg,#5abc64 354deg,#65be47 360deg)"></div><div style="position:absolute;left:19.92px;top:19.82px;width:80.36px;height:80.36px;border-radius:50%;background:conic-gradient(#64be48 0deg,#66bf47 6deg,#68bf47 12deg,#6abf46 18deg,#6cbf46 24deg,#7fc341 30deg,#aece33 36deg,#d7d828 42deg,#f5d420 48deg,#f59620 54deg,#f15527 60deg,#e82930 66deg,#e62232 72deg,#e72036 78deg,#e8234e 84deg,#e82970 90deg,#da3c8a 96deg,#c04a9a 102deg,#914a9f 108deg,#654ba3 114deg,#414ca5 120deg,#374da7 126deg,#344ea7 132deg,#3150a8 138deg,#335eb1 144deg,#3975c0 150deg,#3796d4 156deg,#3ab5d5 162deg,#49b89e 168deg,#5abc64 174deg,#64be48 180deg,#66bf47 186deg,#68bf47 192deg,#6abf46 198deg,#6cbf46 204deg,#7fc341 210deg,#aece33 216deg,#d7d828 222deg,#f5d420 228deg,#f59620 234deg,#f15527 240deg,#e82930 246deg,#e62232 252deg,#e72036 258deg,#e8234e 264deg,#e82970 270deg,#da3c8a 276deg,#c04a9a 282deg,#914a9f 288deg,#654ba3 294deg,#414ca5 300deg,#374da7 306deg,#344ea7 312deg,#3150a8 318deg,#335eb1 324deg,#3975c0 330deg,#3796d4 336deg,#3ab5d5 342deg,#49b89e 348deg,#5abc64 354deg,#64be48 360deg)"></div><div style="position:absolute;left:21.35px;top:21.25px;width:77.49px;height:77.49px;border-radius:50%;background:conic-gradient(#64be48 0deg,#67bf47 6deg,#69bf46 12deg,#6cbf46 18deg,#6fc045 24deg,#96c83a 30deg,#c3d32d 36deg,#ebdd23 42deg,#f5b220 48deg,#f37a23 54deg,#ee442a 60deg,#e72731 66deg,#e52033 72deg,#e82038 78deg,#e82559 84deg,#e62c7a 90deg,#d64290 96deg,#b34a9b 102deg,#844aa0 108deg,#584ba4 114deg,#3a4ca6 120deg,#364da7 126deg,#334fa7 132deg,#3050a8 138deg,#3564b5 144deg,#3a7dc5 150deg,#379fda 156deg,#3cb5cd 162deg,#4ab998 168deg,#5abc61 174deg,#64be48 180deg,#67bf47 186deg,#69bf46 192deg,#6cbf46 198deg,#6fc045 204deg,#96c83a 210deg,#c3d32d 216deg,#ebdd23 222deg,#f5b220 228deg,#f37a23 234deg,#ee442a 240deg,#e72731 246deg,#e52033 252deg,#e82038 258deg,#e82559 264deg,#e62c7a 270deg,#d64290 276deg,#b34a9b 282deg,#844aa0 288deg,#584ba4 294deg,#3a4ca6 300deg,#364da7 306deg,#334fa7 312deg,#3050a8 318deg,#3564b5 324deg,#3a7dc5 330deg,#379fda 336deg,#3cb5cd 342deg,#4ab998 348deg,#5abc61 354deg,#64be48 360deg)"></div><div style="position:absolute;left:22.79px;top:22.69px;width:74.62px;height:74.62px;border-radius:50%;background:conic-gradient(#64be48 0deg,#67bf47 6deg,#6bbf46 12deg,#6ec045 18deg,#7dc341 24deg,#adcd33 30deg,#d7d828 36deg,#f5ce20 42deg,#f59120 48deg,#f15e26 54deg,#eb362d 60deg,#e72531 66deg,#e62034 72deg,#e82141 78deg,#e82765 84deg,#e2317f 90deg,#d24795 96deg,#a64a9d 102deg,#774aa1 108deg,#4b4ca5 114deg,#394da6 120deg,#354ea7 126deg,#324fa8 132deg,#3154aa 138deg,#376ab9 144deg,#3986ca 150deg,#36a8df 156deg,#3eb6c5 162deg,#4cb993 168deg,#5bbc5f 174deg,#64be48 180deg,#67bf47 186deg,#6bbf46 192deg,#6ec045 198deg,#7dc341 204deg,#adcd33 210deg,#d7d828 216deg,#f5ce20 222deg,#f59120 228deg,#f15e26 234deg,#eb362d 240deg,#e72531 246deg,#e62034 252deg,#e82141 258deg,#e82765 264deg,#e2317f 270deg,#d24795 276deg,#a64a9d 282deg,#774aa1 288deg,#4b4ca5 294deg,#394da6 300deg,#354ea7 306deg,#324fa8 312deg,#3154aa 318deg,#376ab9 324deg,#3986ca 330deg,#36a8df 336deg,#3eb6c5 342deg,#4cb993 348deg,#5bbc5f 354deg,#64be48 360deg)"></div><div style="position:absolute;left:24.23px;top:24.12px;width:71.75px;height:71.75px;border-radius:50%;background:conic-gradient(#64be48 0deg,#68bf47 6deg,#6cbf46 12deg,#70c045 18deg,#93c83b 24deg,#c2d22e 30deg,#eadd23 36deg,#f5a920 42deg,#f26d24 48deg,#ee452a 54deg,#e82a30 60deg,#e62332 66deg,#e72036 72deg,#e8234c 78deg,#e82971 84deg,#de3785 90deg,#ca4a99 96deg,#9a4a9e 102deg,#6a4ba2 108deg,#3e4ca6 114deg,#374da7 120deg,#354ea7 126deg,#324fa8 132deg,#335aaf 138deg,#3871bd 144deg,#388fd0 150deg,#35b1e4 156deg,#40b6bd 162deg,#4eb98d 168deg,#5cbd5c 174deg,#64be48 180deg,#68bf47 186deg,#6cbf46 192deg,#70c045 198deg,#93c83b 204deg,#c2d22e 210deg,#eadd23 216deg,#f5a920 222deg,#f26d24 228deg,#ee452a 234deg,#e82a30 240deg,#e62332 246deg,#e72036 252deg,#e8234c 258deg,#e82971 264deg,#de3785 270deg,#ca4a99 276deg,#9a4a9e 282deg,#6a4ba2 288deg,#3e4ca6 294deg,#374da7 300deg,#354ea7 306deg,#324fa8 312deg,#335aaf 318deg,#3871bd 324deg,#388fd0 330deg,#35b1e4 336deg,#40b6bd 342deg,#4eb98d 348deg,#5cbd5c 354deg,#64be48 360deg)"></div><div style="position:absolute;left:25.66px;top:25.56px;width:68.88px;height:68.88px;border-radius:50%;background:conic-gradient(#64be48 0deg,#69bf47 6deg,#6dc046 12deg,#80c440 18deg,#aacd34 24deg,#d5d828 30deg,#f5d020 36deg,#f48421 42deg,#f04b28 48deg,#ea322e 54deg,#e72631 60deg,#e52133 66deg,#e72037 72deg,#e82557 78deg,#e62c7a 84deg,#da3c8a 90deg,#be4a9a 96deg,#8d4aa0 102deg,#5d4ba3 108deg,#394ca6 114deg,#364da7 120deg,#344fa7 126deg,#3150a8 132deg,#3461b3 138deg,#3a77c2 144deg,#3798d5 150deg,#37b4e0 156deg,#42b7b5 162deg,#4fba87 168deg,#5dbd59 174deg,#64be48 180deg,#69bf47 186deg,#6dc046 192deg,#80c440 198deg,#aacd34 204deg,#d5d828 210deg,#f5d020 216deg,#f48421 222deg,#f04b28 228deg,#ea322e 234deg,#e72631 240deg,#e52133 246deg,#e72037 252deg,#e82557 258deg,#e62c7a 264deg,#da3c8a 270deg,#be4a9a 276deg,#8d4aa0 282deg,#5d4ba3 288deg,#394ca6 294deg,#364da7 300deg,#344fa7 306deg,#3150a8 312deg,#3461b3 318deg,#3a77c2 324deg,#3798d5 330deg,#37b4e0 336deg,#42b7b5 342deg,#4fba87 348deg,#5dbd59 354deg,#64be48 360deg)"></div><div style="position:absolute;left:27.10px;top:27.00px;width:66.01px;height:66.01px;border-radius:50%;background:conic-gradient(#64be48 0deg,#69bf46 6deg,#6fc045 12deg,#91c73b 18deg,#bfd22e 24deg,#e8dd23 30deg,#f5ac20 36deg,#f15e26 42deg,#ea332e 48deg,#e72831 54deg,#e62332 60deg,#e52034 66deg,#e8203a 72deg,#e82662 78deg,#e3317f 84deg,#d6418f 90deg,#b24a9b 96deg,#814aa1 102deg,#514ba4 108deg,#384da6 114deg,#354ea7 120deg,#334fa7 126deg,#3052a9 132deg,#3668b8 138deg,#3981c7 144deg,#37a1db 150deg,#39b5d6 156deg,#45b7ad 162deg,#51ba82 168deg,#5ebd56 174deg,#64be48 180deg,#69bf46 186deg,#6fc045 192deg,#91c73b 198deg,#bfd22e 204deg,#e8dd23 210deg,#f5ac20 216deg,#f15e26 222deg,#ea332e 228deg,#e72831 234deg,#e62332 240deg,#e52034 246deg,#e8203a 252deg,#e82662 258deg,#e3317f 264deg,#d6418f 270deg,#b24a9b 276deg,#814aa1 282deg,#514ba4 288deg,#384da6 294deg,#354ea7 300deg,#334fa7 306deg,#3052a9 312deg,#3668b8 318deg,#3981c7 324deg,#37a1db 330deg,#39b5d6 336deg,#45b7ad 342deg,#51ba82 348deg,#5ebd56 354deg,#64be48 360deg)"></div><div style="position:absolute;left:28.53px;top:28.43px;width:63.14px;height:63.14px;border-radius:50%;background:conic-gradient(#64be48 0deg,#6abf46 6deg,#70c045 12deg,#a3cb36 18deg,#d1d729 24deg,#f5d520 30deg,#f48821 36deg,#ed3e2b 42deg,#e72731 48deg,#e62332 54deg,#e52033 60deg,#e62035 66deg,#e82244 72deg,#e8286c 78deg,#df3684 84deg,#d24795 90deg,#a54a9d 96deg,#744ba2 102deg,#444ca5 108deg,#374da7 114deg,#344ea7 120deg,#324fa8 126deg,#3259ae 132deg,#386fbc 138deg,#388acd 144deg,#36abe0 150deg,#3cb6cb 156deg,#47b8a5 162deg,#53ba7c 168deg,#5fbd53 174deg,#64be48 180deg,#6abf46 186deg,#70c045 192deg,#a3cb36 198deg,#d1d729 204deg,#f5d520 210deg,#f48821 216deg,#ed3e2b 222deg,#e72731 228deg,#e62332 234deg,#e52033 240deg,#e62035 246deg,#e82244 252deg,#e8286c 258deg,#df3684 264deg,#d24795 270deg,#a54a9d 276deg,#744ba2 282deg,#444ca5 288deg,#374da7 294deg,#344ea7 300deg,#324fa8 306deg,#3259ae 312deg,#386fbc 318deg,#388acd 324deg,#36abe0 330deg,#3cb6cb 336deg,#47b8a5 342deg,#53ba7c 348deg,#5fbd53 354deg,#64be48 360deg)"></div><div style="position:absolute;left:29.96px;top:29.86px;width:60.27px;height:60.27px;border-radius:50%;background:conic-gradient(#65be47 0deg,#6bbf46 6deg,#7ec341 12deg,#b7d030 18deg,#e5dc24 24deg,#f5b520 30deg,#f26925 36deg,#e82c30 42deg,#e62332 48deg,#e52033 54deg,#e62035 60deg,#e72037 66deg,#e82452 72deg,#e72c7a 78deg,#d93d8b 84deg,#c54a99 90deg,#944a9f 96deg,#654ba3 102deg,#3a4ca6 108deg,#364ea7 114deg,#334fa7 120deg,#3150a8 126deg,#3460b2 132deg,#3975c0 138deg,#3894d3 144deg,#35b4e5 150deg,#40b6bf 156deg,#4ab899 162deg,#55bb72 168deg,#61be4c 174deg,#65be47 180deg,#6bbf46 186deg,#79c242 192deg,#afce33 198deg,#ddda26 204deg,#f5bf20 210deg,#f37024 216deg,#e92d2f 222deg,#e62332 228deg,#e52033 234deg,#e62035 240deg,#e72037 246deg,#e82452 252deg,#e72c7a 258deg,#d93d8b 264deg,#c54a99 270deg,#944a9f 276deg,#654ba3 282deg,#3a4ca6 288deg,#364ea7 294deg,#334fa7 300deg,#3150a8 306deg,#3460b2 312deg,#3975c0 318deg,#3894d3 324deg,#35b4e5 330deg,#40b6bf 336deg,#4ab899 342deg,#55bb72 348deg,#61be4c 354deg,#65be47 360deg)"></div><div style="position:absolute;left:31.40px;top:31.30px;width:57.40px;height:57.40px;border-radius:50%;background:conic-gradient(#66bf47 0deg,#6dc046 6deg,#90c73c 12deg,#cad52b 18deg,#f5d920 24deg,#f59920 30deg,#f15627 36deg,#e82930 42deg,#e62232 48deg,#e62034 54deg,#e72037 60deg,#e82140 66deg,#e82767 72deg,#df3684 78deg,#d14896 84deg,#aa4a9c 90deg,#7d4aa1 96deg,#504ba4 102deg,#384da6 108deg,#344ea7 114deg,#324fa8 120deg,#3153aa 126deg,#3666b7 132deg,#3a7dc5 138deg,#379fd9 144deg,#39b5d7 150deg,#44b7af 156deg,#4fba89 162deg,#5abc63 168deg,#63be48 174deg,#66bf47 180deg,#6cbf46 186deg,#7ec341 192deg,#b1ce32 198deg,#ddda26 204deg,#f5be20 210deg,#f26d24 216deg,#e82b30 222deg,#e62232 228deg,#e62034 234deg,#e72037 240deg,#e82140 246deg,#e82767 252deg,#df3684 258deg,#d14896 264deg,#aa4a9c 270deg,#7d4aa1 276deg,#504ba4 282deg,#384da6 288deg,#344ea7 294deg,#324fa8 300deg,#3153aa 306deg,#3666b7 312deg,#3a7dc5 318deg,#379fd9 324deg,#39b5d7 330deg,#44b7af 336deg,#4fba89 342deg,#5abc63 348deg,#63be48 354deg,#66bf47 360deg)"></div><div style="position:absolute;left:32.84px;top:32.73px;width:54.53px;height:54.53px;border-radius:50%;background:conic-gradient(#67bf47 0deg,#6ec045 6deg,#a3cb36 12deg,#dcda26 18deg,#f5b420 24deg,#f47d22 30deg,#ef4629 36deg,#e72831 42deg,#e52133 48deg,#e62035 54deg,#e8203b 60deg,#e82452 66deg,#e72b79 72deg,#d83f8d 78deg,#bb4a9a 84deg,#904a9f 90deg,#654ba3 96deg,#3b4ca6 102deg,#364da7 108deg,#334fa7 114deg,#3150a8 120deg,#335baf 126deg,#376dbb 132deg,#3986cb 138deg,#36aae0 144deg,#3db6c9 150deg,#48b8a0 156deg,#54bb79 162deg,#5fbd53 168deg,#64be48 174deg,#67bf47 180deg,#6dc046 186deg,#82c440 192deg,#b3cf32 198deg,#ddda26 204deg,#f5bc20 210deg,#f26a24 216deg,#e82a30 222deg,#e52133 228deg,#e62035 234deg,#e8203b 240deg,#e82452 246deg,#e72b79 252deg,#d83f8d 258deg,#bb4a9a 264deg,#904a9f 270deg,#654ba3 276deg,#3b4ca6 282deg,#364da7 288deg,#334fa7 294deg,#3150a8 300deg,#335baf 306deg,#376dbb 312deg,#3986cb 318deg,#36aae0 324deg,#3db6c9 330deg,#48b8a0 336deg,#54bb79 342deg,#5fbd53 348deg,#64be48 354deg,#67bf47 360deg)"></div><div style="position:absolute;left:34.27px;top:34.17px;width:51.66px;height:51.66px;border-radius:50%;background:conic-gradient(#68bf47 0deg,#71c045 6deg,#b5cf31 12deg,#efde22 18deg,#f59020 24deg,#f15f26 30deg,#eb392d 36deg,#e72631 42deg,#e52033 48deg,#e72037 54deg,#e82348 60deg,#e82763 66deg,#e13482 72deg,#d14997 78deg,#a34a9d 84deg,#754ba2 90deg,#4d4ca5 96deg,#384da6 102deg,#354ea7 108deg,#324fa8 114deg,#3153aa 120deg,#3563b5 126deg,#3973bf 132deg,#3890d0 138deg,#35b4e6 144deg,#41b6bb 150deg,#4db98f 156deg,#59bc68 162deg,#62be48 168deg,#65be47 174deg,#68bf47 180deg,#6dc046 186deg,#87c53e 192deg,#b5cf31 198deg,#ddda26 204deg,#f5bb20 210deg,#f26725 216deg,#e82930 222deg,#e52033 228deg,#e72037 234deg,#e82348 240deg,#e82763 246deg,#e13482 252deg,#d14997 258deg,#a34a9d 264deg,#754ba2 270deg,#4d4ca5 276deg,#384da6 282deg,#354ea7 288deg,#324fa8 294deg,#3153aa 300deg,#3563b5 306deg,#3973bf 312deg,#3890d0 318deg,#35b4e6 324deg,#41b6bb 330deg,#4db98f 336deg,#59bc68 342deg,#62be48 348deg,#65be47 354deg,#68bf47 360deg)"></div><div style="position:absolute;left:35.70px;top:35.60px;width:48.79px;height:48.79px;border-radius:50%;background:conic-gradient(#69bf46 0deg,#7fc341 6deg,#c5d32d 12deg,#f5c820 18deg,#f26925 24deg,#ee452a 30deg,#e82c30 36deg,#e62532 42deg,#e52034 48deg,#e82038 54deg,#e82555 60deg,#e82974 66deg,#da3d8b 72deg,#bc4a9a 78deg,#8b4aa0 84deg,#5b4ba4 90deg,#3a4ca6 96deg,#364da7 102deg,#334fa7 108deg,#3050a8 114deg,#335db0 120deg,#376bba 126deg,#3a7bc4 132deg,#3799d6 138deg,#38b5d9 144deg,#45b7ad 150deg,#52ba7f 156deg,#5dbd58 162deg,#64be48 168deg,#67bf47 174deg,#69bf46 180deg,#6ec045 186deg,#8cc63d 192deg,#b7d030 198deg,#ddda26 204deg,#f5b920 210deg,#f26525 216deg,#e72831 222deg,#e52034 228deg,#e82038 234deg,#e82555 240deg,#e82974 246deg,#da3d8b 252deg,#bc4a9a 258deg,#8b4aa0 264deg,#5b4ba4 270deg,#3a4ca6 276deg,#364da7 282deg,#334fa7 288deg,#3050a8 294deg,#335db0 300deg,#376bba 306deg,#3a7bc4 312deg,#3799d6 318deg,#38b5d9 324deg,#45b7ad 330deg,#52ba7f 336deg,#5dbd58 342deg,#64be48 348deg,#67bf47 354deg,#69bf46 360deg)"></div><div style="position:absolute;left:37.14px;top:37.04px;width:45.92px;height:45.92px;border-radius:50%;background:conic-gradient(#6bbf46 0deg,#8dc63d 6deg,#d4d729 12deg,#f5a620 18deg,#ee452a 24deg,#ea322e 30deg,#e72731 36deg,#e62332 42deg,#e62035 48deg,#e82140 54deg,#e82763 60deg,#e4307e 66deg,#d44593 72deg,#a74a9d 78deg,#734ba2 84deg,#414ca5 90deg,#384da6 96deg,#354ea7 102deg,#324fa8 108deg,#3259ae 114deg,#3666b7 120deg,#3973bf 126deg,#3985ca 132deg,#36a2db 138deg,#3cb5cd 144deg,#48b89f 150deg,#57bb6e 156deg,#62be48 162deg,#65be47 168deg,#68bf47 174deg,#6bbf46 180deg,#6fc045 186deg,#91c73b 192deg,#b9d030 198deg,#deda26 204deg,#f5b820 210deg,#f26225 216deg,#e72831 222deg,#e62035 228deg,#e82140 234deg,#e82763 240deg,#e4307e 246deg,#d44593 252deg,#a74a9d 258deg,#734ba2 264deg,#414ca5 270deg,#384da6 276deg,#354ea7 282deg,#324fa8 288deg,#3259ae 294deg,#3666b7 300deg,#3973bf 306deg,#3985ca 312deg,#36a2db 318deg,#3cb5cd 324deg,#48b89f 330deg,#57bb6e 336deg,#62be48 342deg,#65be47 348deg,#68bf47 354deg,#6bbf46 360deg)"></div><div style="position:absolute;left:38.58px;top:38.48px;width:43.05px;height:43.05px;border-radius:50%;background:conic-gradient(#6cbf46 0deg,#9bca38 6deg,#e4db25 12deg,#f48322 18deg,#e82b30 24deg,#e72731 30deg,#e62532 36deg,#e62232 42deg,#e62035 48deg,#e8234a 54deg,#e82970 60deg,#de3785 66deg,#c84a99 72deg,#914a9f 78deg,#5c4ba3 84deg,#384da6 90deg,#354ea7 96deg,#334fa7 102deg,#3051a8 108deg,#3564b5 114deg,#3870bd 120deg,#3a7dc5 126deg,#388fd0 132deg,#36ace1 138deg,#3fb6c0 144deg,#4db990 150deg,#5cbd5e 156deg,#63be48 162deg,#66bf47 168deg,#69bf46 174deg,#6cbf46 180deg,#71c045 186deg,#96c83a 192deg,#bbd12f 198deg,#deda26 204deg,#f5b620 210deg,#f15f26 216deg,#e72731 222deg,#e62035 228deg,#e8234a 234deg,#e82970 240deg,#de3785 246deg,#c84a99 252deg,#914a9f 258deg,#5c4ba3 264deg,#384da6 270deg,#354ea7 276deg,#334fa7 282deg,#3051a8 288deg,#3564b5 294deg,#3870bd 300deg,#3a7dc5 306deg,#388fd0 312deg,#36ace1 318deg,#3fb6c0 324deg,#4db990 330deg,#5cbd5e 336deg,#63be48 342deg,#66bf47 348deg,#69bf46 354deg,#6cbf46 360deg)"></div><div style="position:absolute;left:40.01px;top:39.91px;width:40.18px;height:40.18px;border-radius:50%;background:conic-gradient(#6ec045 0deg,#b4cf31 6deg,#f5d720 12deg,#f15327 18deg,#e62332 24deg,#e52133 30deg,#e52034 36deg,#e62035 42deg,#e8203a 48deg,#e82763 54deg,#e23280 60deg,#d54391 66deg,#ab4a9c 72deg,#734ba2 78deg,#3d4ca6 84deg,#354ea7 90deg,#334fa7 96deg,#3050a8 102deg,#3565b5 108deg,#3a77c1 114deg,#3987cb 120deg,#3797d4 126deg,#36a7de 132deg,#3ab5d4 138deg,#47b8a3 144deg,#56bb71 150deg,#63be48 156deg,#66bf47 162deg,#69bf47 168deg,#6cbf46 174deg,#6ec045 180deg,#85c53f 186deg,#a9cd34 192deg,#c9d52b 198deg,#ebdd23 204deg,#f59c20 210deg,#ee462a 216deg,#e62332 222deg,#e8203a 228deg,#e82763 234deg,#e23280 240deg,#d54391 246deg,#ab4a9c 252deg,#734ba2 258deg,#3d4ca6 264deg,#354ea7 270deg,#334fa7 276deg,#3050a8 282deg,#3565b5 288deg,#3a77c1 294deg,#3987cb 300deg,#3797d4 306deg,#36a7de 312deg,#3ab5d4 318deg,#47b8a3 324deg,#56bb71 330deg,#63be48 336deg,#66bf47 342deg,#69bf47 348deg,#6cbf46 354deg,#6ec045 360deg)"></div><div style="position:absolute;left:41.45px;top:41.34px;width:37.31px;height:37.31px;border-radius:50%;background:conic-gradient(#86c53f 0deg,#d4d729 6deg,#f59d20 12deg,#e82a30 18deg,#e72037 24deg,#e8203a 30deg,#e82244 36deg,#e8244e 42deg,#e82868 48deg,#e03482 54deg,#d34694 60deg,#b54a9b 66deg,#814aa1 72deg,#4a4ca5 78deg,#374da7 84deg,#324fa8 90deg,#3257ac 96deg,#376cba 102deg,#3986ca 108deg,#37a2db 114deg,#35b2e5 120deg,#39b5d6 126deg,#3eb6c3 132deg,#48b8a2 138deg,#57bb6f 144deg,#63be48 150deg,#67bf47 156deg,#6abf46 162deg,#6dc046 168deg,#70c045 174deg,#86c53f 180deg,#aacd34 186deg,#cad52b 192deg,#e8dd23 198deg,#f5b820 204deg,#f16026 210deg,#e72731 216deg,#e72037 222deg,#e82868 228deg,#e03482 234deg,#d34694 240deg,#b54a9b 246deg,#814aa1 252deg,#4a4ca5 258deg,#374da7 264deg,#324fa8 270deg,#3257ac 276deg,#376cba 282deg,#3986ca 288deg,#37a2db 294deg,#35b2e5 300deg,#39b5d6 306deg,#3eb6c3 312deg,#48b8a2 318deg,#57bb6f 324deg,#63be48 330deg,#67bf47 336deg,#6abf46 342deg,#6dc046 348deg,#70c045 354deg,#86c53f 360deg)"></div><div style="position:absolute;left:42.88px;top:42.78px;width:34.44px;height:34.44px;border-radius:50%;background:conic-gradient(#abcd34 0deg,#f3df21 6deg,#f26125 12deg,#e52133 18deg,#e8265e 24deg,#e82768 30deg,#e82972 36deg,#e72c7a 42deg,#df3684 48deg,#d24896 54deg,#b04a9c 60deg,#8b4aa0 66deg,#584ba4 72deg,#384da6 78deg,#334fa7 84deg,#335eb1 90deg,#3973bf 96deg,#3891d1 102deg,#35b1e4 108deg,#3db6c9 114deg,#42b7b6 120deg,#47b8a4 126deg,#4db990 132deg,#57bb6d 138deg,#63be48 144deg,#67bf47 150deg,#6bbf46 156deg,#6ec045 162deg,#7ac242 168deg,#92c83b 174deg,#abcd34 180deg,#cbd52b 186deg,#e9dd23 192deg,#f5be20 198deg,#f47e22 204deg,#ea312e 210deg,#e62034 216deg,#e8265f 222deg,#df3785 228deg,#d24896 234deg,#b04a9c 240deg,#8b4aa0 246deg,#584ba4 252deg,#384da6 258deg,#334fa7 264deg,#335eb1 270deg,#3973bf 276deg,#3891d1 282deg,#35b1e4 288deg,#3db6c9 294deg,#42b7b6 300deg,#47b8a4 306deg,#4db990 312deg,#57bb6d 318deg,#63be48 324deg,#67bf47 330deg,#6bbf46 336deg,#6ec045 342deg,#7ac242 348deg,#92c83b 354deg,#abcd34 360deg)"></div><div style="position:absolute;left:44.31px;top:44.22px;width:31.57px;height:31.57px;border-radius:50%;background:conic-gradient(#ccd52b 0deg,#f5ab20 6deg,#ea322e 12deg,#e8213c 18deg,#e23280 24deg,#df3684 30deg,#db3b89 36deg,#d83f8d 42deg,#d04a98 48deg,#ab4a9c 54deg,#864aa0 60deg,#624ba3 66deg,#394ca6 72deg,#344ea7 78deg,#3154ab 84deg,#3a7cc4 90deg,#379cd8 96deg,#38b5dd 102deg,#42b7b7 108deg,#4bb996 114deg,#51ba83 120deg,#56bb6f 126deg,#5cbd5c 132deg,#63be48 138deg,#67bf47 144deg,#6bbf46 150deg,#6fc045 156deg,#86c53f 162deg,#9fca37 168deg,#b7d030 174deg,#ccd52b 180deg,#ebdd23 186deg,#f5bc20 192deg,#f48421 198deg,#ee442a 204deg,#e62332 210deg,#e82349 216deg,#e13381 222deg,#d04a98 228deg,#ab4a9c 234deg,#864aa0 240deg,#624ba3 246deg,#394ca6 252deg,#344ea7 258deg,#3154ab 264deg,#3a7cc4 270deg,#379cd8 276deg,#38b5dd 282deg,#42b7b7 288deg,#4bb996 294deg,#51ba83 300deg,#56bb6f 306deg,#5cbd5c 312deg,#63be48 318deg,#67bf47 324deg,#6bbf46 330deg,#6fc045 336deg,#86c53f 342deg,#9fca37 348deg,#b7d030 354deg,#ccd52b 360deg)"></div><div style="position:absolute;left:45.75px;top:45.65px;width:28.70px;height:28.70px;border-radius:50%;background:conic-gradient(#ecde22 0deg,#f36f24 6deg,#e62332 12deg,#e8286a 18deg,#d44593 24deg,#d04a98 30deg,#c84a99 36deg,#be4a9a 42deg,#a74a9d 48deg,#824aa1 54deg,#5d4ba3 60deg,#3a4ca6 66deg,#354ea7 72deg,#3150a8 78deg,#3871bd 84deg,#36a7de 90deg,#3bb5d0 96deg,#45b7aa 102deg,#50ba84 108deg,#5abc62 114deg,#60be4e 120deg,#63be48 126deg,#65be47 132deg,#67bf47 138deg,#6bbf46 144deg,#70c045 150deg,#8fc73c 156deg,#abcd34 162deg,#c2d32d 168deg,#d7d828 174deg,#ecde22 180deg,#f5ba20 186deg,#f48222 192deg,#ef4829 198deg,#e72731 204deg,#e82037 210deg,#e82a77 216deg,#d34694 222deg,#a74a9d 228deg,#824aa1 234deg,#5d4ba3 240deg,#3a4ca6 246deg,#354ea7 252deg,#3150a8 258deg,#3871bd 264deg,#36a7de 270deg,#3bb5d0 276deg,#45b7aa 282deg,#50ba84 288deg,#5abc62 294deg,#60be4e 300deg,#63be48 306deg,#65be47 312deg,#67bf47 318deg,#6bbf46 324deg,#70c045 330deg,#8fc73c 336deg,#abcd34 342deg,#c2d32d 348deg,#d7d828 354deg,#ecde22 360deg)"></div><div style="position:absolute;left:47.19px;top:47.09px;width:25.83px;height:25.83px;border-radius:50%;background:conic-gradient(#f5b820 0deg,#ec3b2c 6deg,#e82037 12deg,#de3785 18deg,#b04a9c 24deg,#a74a9d 30deg,#9e4a9e 36deg,#944a9f 42deg,#7d4aa1 48deg,#594ba4 54deg,#394ca6 60deg,#364da7 66deg,#324fa8 72deg,#3667b7 78deg,#3798d5 84deg,#3fb6c3 90deg,#49b89d 96deg,#54bb76 102deg,#60be4f 108deg,#64be48 114deg,#66bf47 120deg,#67bf47 126deg,#69bf47 132deg,#6cbf46 138deg,#70c045 144deg,#91c73b 150deg,#b4cf31 156deg,#ccd52b 162deg,#e1db25 168deg,#f5de20 174deg,#f5b820 180deg,#f47f22 186deg,#ef4729 192deg,#e72831 198deg,#e62034 204deg,#e82661 210deg,#da3d8b 216deg,#af4a9c 222deg,#7d4aa1 228deg,#594ba4 234deg,#394ca6 240deg,#364da7 246deg,#324fa8 252deg,#3667b7 258deg,#3798d5 264deg,#3fb6c3 270deg,#49b89d 276deg,#54bb76 282deg,#60be4f 288deg,#64be48 294deg,#66bf47 300deg,#67bf47 306deg,#69bf47 312deg,#6cbf46 318deg,#70c045 324deg,#91c73b 330deg,#b4cf31 336deg,#ccd52b 342deg,#e1db25 348deg,#f5de20 354deg,#f5b820 360deg)"></div><div style="position:absolute;left:48.62px;top:48.52px;width:22.96px;height:22.96px;border-radius:50%;background:conic-gradient(#f47d22 0deg,#e62532 6deg,#e82660 12deg,#cf4a98 18deg,#874aa0 24deg,#7d4aa1 30deg,#744ba2 36deg,#6b4ba2 42deg,#544ba4 48deg,#394ca6 54deg,#364ea7 60deg,#334fa7 66deg,#335eb1 72deg,#398acd 78deg,#3ab5d4 84deg,#4db990 90deg,#58bc69 96deg,#62be48 102deg,#66bf47 108deg,#68bf47 114deg,#6abf46 120deg,#6bbf46 126deg,#6dc046 132deg,#70c045 138deg,#92c83b 144deg,#b6cf31 150deg,#d4d729 156deg,#ebdd23 162deg,#f5cb20 168deg,#f5a520 174deg,#f47d22 180deg,#ef4629 186deg,#e72731 192deg,#e52034 198deg,#e8234a 204deg,#e13381 210deg,#c34a99 216deg,#854aa0 222deg,#544ba4 228deg,#394ca6 234deg,#364ea7 240deg,#334fa7 246deg,#335eb1 252deg,#398acd 258deg,#3ab5d4 264deg,#4db990 270deg,#58bc69 276deg,#62be48 282deg,#66bf47 288deg,#68bf47 294deg,#6abf46 300deg,#6bbf46 306deg,#6dc046 312deg,#70c045 318deg,#92c83b 324deg,#b6cf31 330deg,#d4d729 336deg,#ebdd23 342deg,#f5cb20 348deg,#f5a520 354deg,#f47d22 360deg)"></div><div style="position:absolute;left:50.05px;top:49.95px;width:20.09px;height:20.09px;border-radius:50%;background:conic-gradient(#ea312e 0deg,#e8213d 6deg,#db3c8a 12deg,#914a9f 18deg,#4a4ca5 24deg,#414ca5 30deg,#3a4ca6 36deg,#394ca6 42deg,#374da7 48deg,#344ea7 54deg,#3150a8 60deg,#3564b5 66deg,#3890d0 72deg,#3cb5cd 78deg,#4fba89 84deg,#62be48 90deg,#66bf47 96deg,#69bf47 102deg,#6cbf46 108deg,#6ec045 114deg,#70c045 120deg,#7ec341 126deg,#8cc63d 132deg,#a4cc36 138deg,#c6d42c 144deg,#e4db25 150deg,#f5c820 156deg,#f59d20 162deg,#f37523 168deg,#f04d28 174deg,#ea312e 180deg,#e62332 186deg,#e72037 192deg,#e8265b 198deg,#e13381 204deg,#c44a99 210deg,#864aa0 216deg,#494ca5 222deg,#374da7 228deg,#344ea7 234deg,#3150a8 240deg,#3565b5 246deg,#3890d0 252deg,#3cb5cd 258deg,#4fba89 264deg,#62be48 270deg,#66bf47 276deg,#69bf47 282deg,#6cbf46 288deg,#6ec045 294deg,#70c045 300deg,#7ec341 306deg,#8cc63d 312deg,#a4cc36 318deg,#c6d42c 324deg,#e4db25 330deg,#f5c820 336deg,#f59d20 342deg,#f37523 348deg,#f04d28 354deg,#ea312e 360deg)"></div><div style="position:absolute;left:51.49px;top:51.39px;width:17.22px;height:17.22px;border-radius:50%;background:conic-gradient(#e82037 0deg,#de3886 6deg,#9b4a9e 12deg,#3f4ca6 18deg,#344ea7 24deg,#334fa7 30deg,#334fa7 36deg,#324fa8 42deg,#3051a9 48deg,#376bb9 54deg,#388acd 60deg,#35b1e4 66deg,#45b7ac 72deg,#59bc66 78deg,#65be47 84deg,#6bbf46 90deg,#6ec045 96deg,#79c242 102deg,#94c83a 108deg,#accd33 114deg,#bad030 120deg,#c5d42c 126deg,#d1d729 132deg,#e6dc24 138deg,#f5c420 144deg,#f58d20 150deg,#f05227 156deg,#ea322e 162deg,#e72631 168deg,#e52033 174deg,#e82037 180deg,#e8265e 186deg,#e23280 192deg,#d44492 198deg,#af4a9c 204deg,#714ba2 210deg,#394ca6 216deg,#344ea7 222deg,#3051a9 228deg,#376bb9 234deg,#388acd 240deg,#35b1e4 246deg,#45b7ac 252deg,#59bc66 258deg,#65be47 264deg,#6bbf46 270deg,#6ec045 276deg,#79c242 282deg,#94c83a 288deg,#accd33 294deg,#bad030 300deg,#c5d42c 306deg,#d1d729 312deg,#e6dc24 318deg,#f5c420 324deg,#f58d20 330deg,#f05227 336deg,#ea322e 342deg,#e72631 348deg,#e52033 354deg,#e82037 360deg)"></div><div style="position:absolute;left:52.93px;top:52.83px;width:14.35px;height:14.35px;border-radius:50%;background:conic-gradient(#e13381 0deg,#a54a9d 6deg,#494ca5 12deg,#334fa7 18deg,#3667b7 24deg,#376ebb 30deg,#3974bf 36deg,#3a7cc4 42deg,#3894d3 48deg,#37b4df 54deg,#43b7b2 60deg,#50ba84 66deg,#62be48 72deg,#68bf47 78deg,#6ec046 84deg,#8cc63d 90deg,#a7cc35 96deg,#c1d22e 102deg,#d8d828 108deg,#edde22 114deg,#f5da20 120deg,#f5c520 126deg,#f5af20 132deg,#f48821 138deg,#f04d28 144deg,#e82930 150deg,#e52033 156deg,#e82037 162deg,#e82450 168deg,#e8296f 174deg,#e13381 180deg,#d34694 186deg,#b14a9c 192deg,#894aa0 198deg,#5c4ba3 204deg,#384da6 210deg,#324fa8 216deg,#3668b8 222deg,#3894d3 228deg,#37b4df 234deg,#43b7b2 240deg,#50ba84 246deg,#62be48 252deg,#68bf47 258deg,#6ec046 264deg,#8cc63d 270deg,#a7cc35 276deg,#c1d22e 282deg,#d8d828 288deg,#edde22 294deg,#f5da20 300deg,#f5c520 306deg,#f5af20 312deg,#f48821 318deg,#f04d28 324deg,#e82930 330deg,#e52033 336deg,#e82037 342deg,#e82450 348deg,#e8296f 354deg,#e13381 360deg)"></div><div style="position:absolute;left:54.36px;top:54.26px;width:11.48px;height:11.48px;border-radius:50%;background:conic-gradient(#ae4a9c 0deg,#524ba4 6deg,#344ea7 12deg,#386fbc 18deg,#35b4e5 24deg,#38b5da 30deg,#3bb5ce 36deg,#3eb6c3 42deg,#46b8a7 48deg,#54bb79 54deg,#62be4a 60deg,#66bf47 66deg,#6bbf46 72deg,#73c144 78deg,#a4cc36 84deg,#d1d729 90deg,#e8dd23 96deg,#f5cc20 102deg,#f5a220 108deg,#f37b22 114deg,#f26525 120deg,#f04e28 126deg,#ed3e2b 132deg,#e82830 138deg,#e52033 144deg,#e8213f 150deg,#e8286b 156deg,#e13381 162deg,#d8408e 168deg,#ca4a99 174deg,#ae4a9c 180deg,#864aa0 186deg,#5e4ba3 192deg,#3a4ca6 198deg,#364ea7 204deg,#3050a8 210deg,#3a77c1 216deg,#36b4e3 222deg,#46b8a7 228deg,#54bb79 234deg,#62be4a 240deg,#66bf47 246deg,#6bbf46 252deg,#73c144 258deg,#a4cc36 264deg,#d1d729 270deg,#e8dd23 276deg,#f5cc20 282deg,#f5a220 288deg,#f37b22 294deg,#f26525 300deg,#f04e28 306deg,#ed3e2b 312deg,#e82830 318deg,#e52033 324deg,#e8213f 330deg,#e8286b 336deg,#e13381 342deg,#d8408e 348deg,#ca4a99 354deg,#ae4a9c 360deg)"></div><div style="position:absolute;left:55.80px;top:55.70px;width:8.61px;height:8.61px;border-radius:50%;background:conic-gradient(#5c4ba3 0deg,#354ea7 6deg,#3669b8 12deg,#39b5d7 18deg,#52ba7f 24deg,#55bb73 30deg,#59bc67 36deg,#5cbd5c 42deg,#63be48 48deg,#67bf47 54deg,#6abf46 60deg,#6ec045 66deg,#8bc63d 72deg,#bcd12f 78deg,#e6dc24 84deg,#f5af20 90deg,#f48421 96deg,#f15627 102deg,#ea352e 108deg,#e72731 114deg,#e62332 120deg,#e52033 126deg,#e62035 132deg,#e82242 138deg,#e8296f 144deg,#dd3987 150deg,#ce4a98 156deg,#af4a9c 162deg,#934a9f 168deg,#774aa1 174deg,#5c4ba3 180deg,#394ca6 186deg,#364ea7 192deg,#334fa7 198deg,#335baf 204deg,#388dce 210deg,#3db6c9 216deg,#52ba7d 222deg,#63be48 228deg,#67bf47 234deg,#6abf46 240deg,#6ec045 246deg,#8bc63d 252deg,#bcd12f 258deg,#e6dc24 264deg,#f5af20 270deg,#f48421 276deg,#f15627 282deg,#ea352e 288deg,#e72731 294deg,#e62332 300deg,#e52033 306deg,#e62035 312deg,#e82242 318deg,#e8296f 324deg,#dd3987 330deg,#ce4a98 336deg,#af4a9c 342deg,#934a9f 348deg,#774aa1 354deg,#5c4ba3 360deg)"></div><div style="position:absolute;left:57.23px;top:57.13px;width:5.74px;height:5.74px;border-radius:50%;background:conic-gradient(#364ea7 0deg,#3462b4 6deg,#36b4e3 12deg,#56bb71 18deg,#66bf47 24deg,#67bf47 30deg,#68bf47 36deg,#69bf47 42deg,#6bbf46 48deg,#6fc045 54deg,#87c53e 60deg,#a8cc35 66deg,#d1d62a 72deg,#f5d620 78deg,#f48921 84deg,#ed3e2b 90deg,#e72831 96deg,#e52133 102deg,#e72037 108deg,#e8234c 114deg,#e8265d 120deg,#e8286e 126deg,#e62d7b 132deg,#dc3a88 138deg,#cb4a99 144deg,#a24a9d 150deg,#7a4aa1 156deg,#5c4ba3 162deg,#404ca6 168deg,#384da6 174deg,#364ea7 180deg,#324fa8 186deg,#3259ae 192deg,#3975c0 198deg,#36a3dc 204deg,#44b7af 210deg,#5abc62 216deg,#66bf47 222deg,#6bbf46 228deg,#6fc045 234deg,#87c53e 240deg,#a8cc35 246deg,#d1d62a 252deg,#f5d620 258deg,#f48921 264deg,#ed3e2b 270deg,#e72831 276deg,#e52133 282deg,#e72037 288deg,#e8234c 294deg,#e8265d 300deg,#e8286e 306deg,#e62d7b 312deg,#dc3a88 318deg,#cb4a99 324deg,#a24a9d 330deg,#7a4aa1 336deg,#5c4ba3 342deg,#404ca6 348deg,#384da6 354deg,#364ea7 360deg)"></div><div style="position:absolute;left:58.66px;top:58.56px;width:2.87px;height:2.87px;border-radius:50%;background:conic-gradient(#335baf 0deg,#36ade2 6deg,#52ba7d 12deg,#67bf47 18deg,#6ec045 24deg,#6fc045 30deg,#72c044 36deg,#7ac242 42deg,#8fc73c 48deg,#b0ce32 54deg,#cdd62a 60deg,#e9dd23 66deg,#f5b020 72deg,#f16026 78deg,#e82830 84deg,#e62035 90deg,#e82246 96deg,#e82768 102deg,#e23280 108deg,#d93e8c 114deg,#d44593 120deg,#cb4a99 126deg,#bc4a9a 132deg,#a04a9e 138deg,#784aa1 144deg,#504ba4 150deg,#384da6 156deg,#364ea7 162deg,#334fa7 168deg,#3150a8 174deg,#335baf 180deg,#3a77c1 186deg,#37a0da 192deg,#3cb5cd 198deg,#4bb995 204deg,#62be48 210deg,#68bf47 216deg,#6fc045 222deg,#8fc73c 228deg,#b0ce32 234deg,#cdd62a 240deg,#e9dd23 246deg,#f5b020 252deg,#f16026 258deg,#e82830 264deg,#e62035 270deg,#e82246 276deg,#e82768 282deg,#e23280 288deg,#d93e8c 294deg,#d44593 300deg,#cb4a99 306deg,#bc4a9a 312deg,#a04a9e 318deg,#784aa1 324deg,#504ba4 330deg,#384da6 336deg,#364ea7 342deg,#334fa7 348deg,#3150a8 354deg,#335baf 360deg)"></div></div></foreignObject><ellipse cx="51" cy="46" rx="10" ry="6" fill="#3a5ab0" opacity="0.9" transform="rotate(20 51 46)" filter="url(#b2_5)"/><ellipse cx="44" cy="52" rx="5" ry="8" fill="#36a8d8" opacity="0.6" filter="url(#b2_5)"/><ellipse cx="64.5" cy="48" rx="9" ry="5.5" fill="#70c045" opacity="0.9" transform="rotate(30 64.5 48)" filter="url(#b2_4)"/><ellipse cx="71.5" cy="55" rx="4" ry="6" fill="#f5d020" opacity="0.9" filter="url(#b2_2)"/><ellipse cx="56" cy="73" rx="10" ry="5.5" fill="#70c045" opacity="0.9" transform="rotate(20 56 73)" filter="url(#b2_4)"/><ellipse cx="51.5" cy="65" rx="7" ry="4" fill="#f5d020" opacity="0.9" transform="rotate(20 51.5 65)" filter="url(#b2_2)"/><ellipse cx="67" cy="68" rx="9" ry="5.5" fill="#4050a8" opacity="0.9" transform="rotate(20 67 68)" filter="url(#b2_4)"/><ellipse cx="74.5" cy="62" rx="5" ry="3.5" fill="#d03a98" opacity="0.8" filter="url(#b2_2)"/><ellipse cx="58.5" cy="58.5" rx="11" ry="4.6" fill="#e82a3a" opacity="1" transform="rotate(28 58.5 58.5)" filter="url(#b1_8)"/><rect x="0" y="0" width="120.20" height="120.00" filter="url(#nz16)" mask="url(#mk2)" opacity="1"/></g></g><circle cx="60.10" cy="60.00" r="56.40" fill="none" stroke="#111" stroke-width="1.4" stroke-dasharray="3.3 3.1"/><rect x="0.9" y="0.9" width="118.40" height="118.20" fill="none" stroke="#0a0a0a" stroke-width="1.8"/></g><text x="106.00" y="159.3" font-size="16.8" text-anchor="middle">vertical</text><text x="106.50" y="286.0" font-size="16.8" text-anchor="middle">cir. right</text><line x1="37.5" x2="37.5" y1="57.40" y2="169.40" stroke="#5a5a5a" stroke-width="1"/><line x1="35.2" x2="39.4" y1="57.40" y2="57.40" stroke="#5a5a5a" stroke-width="1"/><line x1="35.2" x2="39.4" y1="113.20" y2="113.20" stroke="#5a5a5a" stroke-width="1"/><line x1="35.2" x2="39.4" y1="169.40" y2="169.40" stroke="#5a5a5a" stroke-width="1"/><text x="31.9" y="65.80" font-size="12" text-anchor="end">0.7</text><text x="31.9" y="116.70" font-size="12" text-anchor="end">0</text><text x="31.9" y="170.10" font-size="12" text-anchor="end">-0.7</text><text x="3.9" y="111.50" font-size="16.5" class="w">k</text><text x="12.2" y="117.00" font-size="10" class="w">y</text><line x1="37.5" x2="37.5" y1="184.40" y2="296.60" stroke="#5a5a5a" stroke-width="1"/><line x1="35.2" x2="39.4" y1="184.40" y2="184.40" stroke="#5a5a5a" stroke-width="1"/><line x1="35.2" x2="39.4" y1="240.40" y2="240.40" stroke="#5a5a5a" stroke-width="1"/><line x1="35.2" x2="39.4" y1="296.60" y2="296.60" stroke="#5a5a5a" stroke-width="1"/><text x="31.9" y="193.90" font-size="12" text-anchor="end">0.7</text><text x="31.9" y="244.20" font-size="12" text-anchor="end">0</text><text x="31.9" y="297.60" font-size="12" text-anchor="end">-0.7</text><text x="3.9" y="238.70" font-size="16.5" class="w">k</text><text x="12.2" y="244.20" font-size="10" class="w">y</text><line x1="49.50" x2="162.30" y1="309.3" y2="309.3" stroke="#5a5a5a" stroke-width="1"/><line x1="49.50" x2="49.50" y1="307.2" y2="311.0" stroke="#5a5a5a" stroke-width="1"/><line x1="106.50" x2="106.50" y1="307.2" y2="311.0" stroke="#5a5a5a" stroke-width="1"/><line x1="162.30" x2="162.30" y1="307.2" y2="311.0" stroke="#5a5a5a" stroke-width="1"/><text x="44.00" y="325.0" font-size="12">-0.7</text><text x="106.00" y="325.0" font-size="12" text-anchor="middle">0</text><text x="163.50" y="325.0" font-size="12" text-anchor="end">0.7</text><text x="98.10" y="344.9" font-size="16.5" class="w">k</text><text x="107.30" y="351.1" font-size="10" class="w">x</text><line x1="178.00" x2="290.50" y1="309.3" y2="309.3" stroke="#5a5a5a" stroke-width="1"/><line x1="178.00" x2="178.00" y1="307.2" y2="311.0" stroke="#5a5a5a" stroke-width="1"/><line x1="234.40" x2="234.40" y1="307.2" y2="311.0" stroke="#5a5a5a" stroke-width="1"/><line x1="290.50" x2="290.50" y1="307.2" y2="311.0" stroke="#5a5a5a" stroke-width="1"/><text x="170.90" y="325.0" font-size="12">-0.7</text><text x="233.90" y="325.0" font-size="12" text-anchor="middle">0</text><text x="293.00" y="325.0" font-size="12" text-anchor="end">0.7</text><text x="225.70" y="344.9" font-size="16.5" class="w">k</text><text x="234.90" y="351.1" font-size="10" class="w">x</text><line x1="305.60" x2="418.50" y1="309.3" y2="309.3" stroke="#5a5a5a" stroke-width="1"/><line x1="305.60" x2="305.60" y1="307.2" y2="311.0" stroke="#5a5a5a" stroke-width="1"/><line x1="362.00" x2="362.00" y1="307.2" y2="311.0" stroke="#5a5a5a" stroke-width="1"/><line x1="418.50" x2="418.50" y1="307.2" y2="311.0" stroke="#5a5a5a" stroke-width="1"/><text x="300.60" y="325.0" font-size="12">-0.7</text><text x="361.50" y="325.0" font-size="12" text-anchor="middle">0</text><text x="419.10" y="325.0" font-size="12" text-anchor="end">0.7</text><text x="353.40" y="344.9" font-size="16.5" class="w">k</text><text x="362.60" y="351.1" font-size="10" class="w">x</text><line x1="434.70" x2="547.10" y1="309.3" y2="309.3" stroke="#5a5a5a" stroke-width="1"/><line x1="434.70" x2="434.70" y1="307.2" y2="311.0" stroke="#5a5a5a" stroke-width="1"/><line x1="490.40" x2="490.40" y1="307.2" y2="311.0" stroke="#5a5a5a" stroke-width="1"/><line x1="547.10" x2="547.10" y1="307.2" y2="311.0" stroke="#5a5a5a" stroke-width="1"/><text x="432.20" y="325.0" font-size="12">-0.7</text><text x="489.90" y="325.0" font-size="12" text-anchor="middle">0</text><text x="548.60" y="325.0" font-size="12" text-anchor="end">0.7</text><text x="483.90" y="344.9" font-size="16.5" class="w">k</text><text x="493.10" y="351.1" font-size="10" class="w">x</text><line x1="563.50" x2="676.60" y1="309.3" y2="309.3" stroke="#5a5a5a" stroke-width="1"/><line x1="563.50" x2="563.50" y1="307.2" y2="311.0" stroke="#5a5a5a" stroke-width="1"/><line x1="620.30" x2="620.30" y1="307.2" y2="311.0" stroke="#5a5a5a" stroke-width="1"/><line x1="676.60" x2="676.60" y1="307.2" y2="311.0" stroke="#5a5a5a" stroke-width="1"/><text x="560.60" y="325.0" font-size="12">-0.7</text><text x="619.80" y="325.0" font-size="12" text-anchor="middle">0</text><text x="677.60" y="325.0" font-size="12" text-anchor="end">0.7</text><text x="612.90" y="344.9" font-size="16.5" class="w">k</text><text x="622.10" y="351.1" font-size="10" class="w">x</text><defs><filter id="nz0" x="0" y="0" width="100%" height="100%" color-interpolation-filters="sRGB"><feTurbulence type="fractalNoise" baseFrequency="1.6" numOctaves="1" seed="7"/><feColorMatrix type="matrix" values="1 0 0 0 0.296078  0.95 0 0 0 0.37598  0.85 0 0 0 0.469118  0 0 0 0 1"/></filter><filter id="nz1" x="0" y="0" width="100%" height="100%" color-interpolation-filters="sRGB"><feTurbulence type="fractalNoise" baseFrequency="1.6" numOctaves="1" seed="8"/><feColorMatrix type="matrix" values="1 0 0 0 0.366667  0.95 0 0 0 0.426961  0.85 0 0 0 0.508333  0 0 0 0 1"/></filter><filter id="nz2" x="0" y="0" width="100%" height="100%" color-interpolation-filters="sRGB"><feTurbulence type="fractalNoise" baseFrequency="1.6" numOctaves="1" seed="9"/><feColorMatrix type="matrix" values="1.1 0 0 0 0.246078  1.045 0 0 0 0.32848  0.935 0 0 0 0.426618  0 0 0 0 1"/></filter><filter id="nz3" x="0" y="0" width="100%" height="100%" color-interpolation-filters="sRGB"><feTurbulence type="fractalNoise" baseFrequency="1.6" numOctaves="1" seed="10"/><feColorMatrix type="matrix" values="1.05 0 0 0 0.231863  0.9975 0 0 0 0.320858  0.8925 0 0 0 0.432181  0 0 0 0 1"/></filter><filter id="nz4" x="0" y="0" width="100%" height="100%" color-interpolation-filters="sRGB"><feTurbulence type="fractalNoise" baseFrequency="1.6" numOctaves="1" seed="11"/><feColorMatrix type="matrix" values="1 0 0 0 0.358824  0.95 0 0 0 0.426961  0.85 0 0 0 0.516176  0 0 0 0 1"/></filter><filter id="nz5" x="0" y="0" width="100%" height="100%" color-interpolation-filters="sRGB"><feTurbulence type="fractalNoise" baseFrequency="1.6" numOctaves="1" seed="12"/><feColorMatrix type="matrix" values="0.9 0 0 0 0.161765  0.855 0 0 0 0.333284  0.765 0 0 0 0.519461  0 0 0 0 1"/></filter><filter id="nz6" x="0" y="0" width="100%" height="100%" color-interpolation-filters="sRGB"><feTurbulence type="fractalNoise" baseFrequency="1.6" numOctaves="1" seed="13"/><feColorMatrix type="matrix" values="1.2 0 0 0 0.156863  1.14 0 0 0 0.249608  1.02 0 0 0 0.368431  0 0 0 0 1"/></filter><filter id="nz7" x="0" y="0" width="100%" height="100%" color-interpolation-filters="sRGB"><feTurbulence type="fractalNoise" baseFrequency="1.6" numOctaves="1" seed="14"/><feColorMatrix type="matrix" values="0.95 0 0 0 0.0504902  0.9025 0 0 0 0.168358  0.8075 0 0 0 0.364877  0 0 0 0 1"/></filter><filter id="nz8" x="0" y="0" width="100%" height="100%" color-interpolation-filters="sRGB"><feTurbulence type="fractalNoise" baseFrequency="1.6" numOctaves="1" seed="15"/><feColorMatrix type="matrix" values="0.7 0 0 0 -0.153922  0.665 0 0 0 0.122402  0.595 0 0 0 0.463284  0 0 0 0 1"/></filter><filter id="nz9" x="0" y="0" width="100%" height="100%" color-interpolation-filters="sRGB"><feTurbulence type="fractalNoise" baseFrequency="1.6" numOctaves="1" seed="16"/><feColorMatrix type="matrix" values="1.3 0 0 0 -0.12451  1.235 0 0 0 0.00210784  1.105 0 0 0 0.216127  0 0 0 0 1"/></filter><filter id="nz10" x="0" y="0" width="100%" height="100%" color-interpolation-filters="sRGB"><feTurbulence type="fractalNoise" baseFrequency="1.6" numOctaves="1" seed="17"/><feColorMatrix type="matrix" values="1 0 0 0 0.327451  0.95 0 0 0 0.407353  0.85 0 0 0 0.508333  0 0 0 0 1"/></filter><filter id="nz11" x="0" y="0" width="100%" height="100%" color-interpolation-filters="sRGB"><feTurbulence type="fractalNoise" baseFrequency="1.6" numOctaves="1" seed="18"/><feColorMatrix type="matrix" values="1.15 0 0 0 0.138725  1.0925 0 0 0 0.167475  0.9775 0 0 0 0.268113  0 0 0 0 1"/></filter><filter id="nz12" x="0" y="0" width="100%" height="100%" color-interpolation-filters="sRGB"><feTurbulence type="fractalNoise" baseFrequency="1.6" numOctaves="1" seed="19"/><feColorMatrix type="matrix" values="1.1 0 0 0 0.265686  1.045 0 0 0 0.355931  0.935 0 0 0 0.465833  0 0 0 0 1"/></filter><filter id="nz13" x="0" y="0" width="100%" height="100%" color-interpolation-filters="sRGB"><feTurbulence type="fractalNoise" baseFrequency="1.6" numOctaves="1" seed="20"/><feColorMatrix type="matrix" values="0.8 0 0 0 0.0705882  0.76 0 0 0 0.306275  0.68 0 0 0 0.522745  0 0 0 0 1"/></filter><filter id="nz14" x="0" y="0" width="100%" height="100%" color-interpolation-filters="sRGB"><feTurbulence type="fractalNoise" baseFrequency="1.6" numOctaves="1" seed="21"/><feColorMatrix type="matrix" values="1.3 0 0 0 0.0637255  1.235 0 0 0 0.0962255  1.105 0 0 0 0.204363  0 0 0 0 1"/></filter><filter id="nz15" x="0" y="0" width="100%" height="100%" color-interpolation-filters="sRGB"><feTurbulence type="fractalNoise" baseFrequency="1.6" numOctaves="1" seed="22"/><feColorMatrix type="matrix" values="0.44 0 0 0.88 0.0027451  0 0.44 0 0.88 -0.0364706  0 0 0.44 0.88 -0.087451  0 0 0 0 1"/></filter><filter id="nz16" x="0" y="0" width="100%" height="100%" color-interpolation-filters="sRGB"><feTurbulence type="fractalNoise" baseFrequency="1.6" numOctaves="1" seed="23"/><feColorMatrix type="matrix" values="0.48 0 0 0.96 -0.0572549  0 0.48 0 0.96 -0.0964706  0 0 0.48 0.96 -0.147451  0 0 0 0 1"/></filter><radialGradient id="gmk0" gradientUnits="userSpaceOnUse" cx="60.1" cy="60" r="57.4"><stop offset="0.923345" stop-color="#000"/><stop offset="1" stop-color="#fff"/></radialGradient><mask id="mk0" maskUnits="userSpaceOnUse" x="0" y="0" width="120.2" height="120"><rect x="0" y="0" width="120.2" height="120" fill="url(#gmk0)"/></mask><radialGradient id="gmk1" gradientUnits="userSpaceOnUse" cx="60.1" cy="60" r="57.4"><stop offset="0.87108" stop-color="#000"/><stop offset="1" stop-color="#fff"/></radialGradient><mask id="mk1" maskUnits="userSpaceOnUse" x="0" y="0" width="120.2" height="120"><rect x="0" y="0" width="120.2" height="120" fill="url(#gmk1)"/></mask><radialGradient id="gmk2" gradientUnits="userSpaceOnUse" cx="60.1" cy="60" r="57.4"><stop offset="0.888502" stop-color="#000"/><stop offset="1" stop-color="#fff"/></radialGradient><mask id="mk2" maskUnits="userSpaceOnUse" x="0" y="0" width="120.2" height="120"><rect x="0" y="0" width="120.2" height="120" fill="url(#gmk2)"/></mask><radialGradient id="gmk3" gradientUnits="userSpaceOnUse" cx="60.1" cy="60" r="57.4"><stop offset="0" stop-color="#000"/><stop offset="0.0174216" stop-color="#fff"/></radialGradient><mask id="mk3" maskUnits="userSpaceOnUse" x="0" y="0" width="120.2" height="120"><rect x="0" y="0" width="120.2" height="120" fill="url(#gmk3)"/></mask><radialGradient id="gmk4" gradientUnits="userSpaceOnUse" cx="60.1" cy="60" r="57.4"><stop offset="0.905923" stop-color="#000"/><stop offset="1" stop-color="#fff"/></radialGradient><mask id="mk4" maskUnits="userSpaceOnUse" x="0" y="0" width="120.2" height="120"><rect x="0" y="0" width="120.2" height="120" fill="url(#gmk4)"/></mask><radialGradient id="gmk5" gradientUnits="userSpaceOnUse" cx="60.1" cy="60" r="57.4"><stop offset="0.853659" stop-color="#000"/><stop offset="1" stop-color="#fff"/></radialGradient><mask id="mk5" maskUnits="userSpaceOnUse" x="0" y="0" width="120.2" height="120"><rect x="0" y="0" width="120.2" height="120" fill="url(#gmk5)"/></mask></defs><defs><filter id="b0_8" x="-50%" y="-50%" width="200%" height="200%"><feGaussianBlur stdDeviation="0.8"/></filter><filter id="b1" x="-50%" y="-50%" width="200%" height="200%"><feGaussianBlur stdDeviation="1"/></filter><filter id="b1_2" x="-50%" y="-50%" width="200%" height="200%"><feGaussianBlur stdDeviation="1.2"/></filter><filter id="b1_4" x="-50%" y="-50%" width="200%" height="200%"><feGaussianBlur stdDeviation="1.4"/></filter><filter id="b1_5" x="-50%" y="-50%" width="200%" height="200%"><feGaussianBlur stdDeviation="1.5"/></filter><filter id="b1_6" x="-50%" y="-50%" width="200%" height="200%"><feGaussianBlur stdDeviation="1.6"/></filter><filter id="b1_8" x="-50%" y="-50%" width="200%" height="200%"><feGaussianBlur stdDeviation="1.8"/></filter><filter id="b2" x="-50%" y="-50%" width="200%" height="200%"><feGaussianBlur stdDeviation="2"/></filter><filter id="b2_2" x="-50%" y="-50%" width="200%" height="200%"><feGaussianBlur stdDeviation="2.2"/></filter><filter id="b2_4" x="-50%" y="-50%" width="200%" height="200%"><feGaussianBlur stdDeviation="2.4"/></filter><filter id="b2_5" x="-50%" y="-50%" width="200%" height="200%"><feGaussianBlur stdDeviation="2.5"/></filter><filter id="b2_6" x="-50%" y="-50%" width="200%" height="200%"><feGaussianBlur stdDeviation="2.6"/></filter><filter id="b3" x="-50%" y="-50%" width="200%" height="200%"><feGaussianBlur stdDeviation="3"/></filter><filter id="b3_2" x="-50%" y="-50%" width="200%" height="200%"><feGaussianBlur stdDeviation="3.2"/></filter><filter id="b3_5" x="-50%" y="-50%" width="200%" height="200%"><feGaussianBlur stdDeviation="3.5"/></filter><filter id="b4" x="-50%" y="-50%" width="200%" height="200%"><feGaussianBlur stdDeviation="4"/></filter><filter id="b5" x="-50%" y="-50%" width="200%" height="200%"><feGaussianBlur stdDeviation="5"/></filter><filter id="b6" x="-50%" y="-50%" width="200%" height="200%"><feGaussianBlur stdDeviation="6"/></filter><filter id="b7" x="-50%" y="-50%" width="200%" height="200%"><feGaussianBlur stdDeviation="7"/></filter></defs></svg></body></html>
